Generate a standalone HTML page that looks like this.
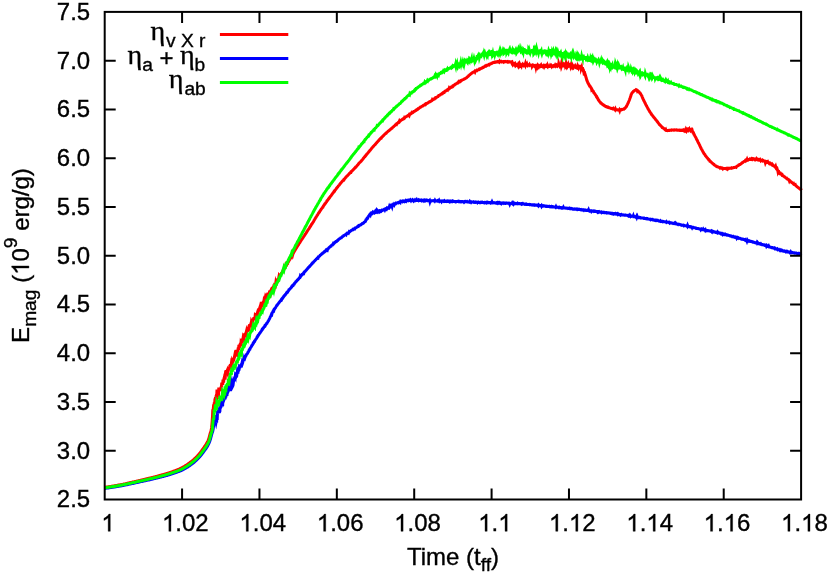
<!DOCTYPE html>
<html><head><meta charset="utf-8"><title>plot</title>
<style>
html,body{margin:0;padding:0;background:#fff;}
svg{display:block;will-change:transform;}
text{font-family:"Liberation Sans",sans-serif;font-size:24px;fill:#000;stroke:#000;stroke-width:0.35px;}
.sub{font-size:19.2px;}
.sub2{font-size:15.4px;}
.sym text{font-family:"Liberation Serif",serif;font-size:27px;}
</style></head><body>
<svg width="830" height="573" viewBox="0 0 830 573">
<rect width="830" height="573" fill="#fff"/>
<g fill="none" stroke-linejoin="miter" stroke-miterlimit="5" stroke-linecap="butt" stroke-width="3">
<path stroke="#ff0000" d="M104.5,487.4 L104.8,487.4 L105.1,487.4 L105.4,487.3 L105.7,487.3 L106.0,487.2 L106.3,487.2 L106.6,487.1 L106.9,487.1 L107.2,487.1 L107.5,487.0 L107.8,487.0 L108.1,486.9 L108.4,486.9 L108.7,486.8 L109.0,486.8 L109.3,486.7 L109.6,486.7 L109.9,486.6 L110.2,486.6 L110.5,486.5 L110.8,486.5 L111.1,486.4 L111.4,486.4 L111.7,486.3 L112.0,486.3 L112.3,486.2 L112.6,486.2 L112.9,486.1 L113.2,486.1 L113.5,486.0 L113.8,486.0 L114.1,485.9 L114.4,485.9 L114.7,485.8 L115.0,485.8 L115.3,485.7 L115.6,485.7 L115.9,485.6 L116.2,485.6 L116.5,485.5 L116.8,485.5 L117.1,485.4 L117.4,485.3 L117.7,485.3 L118.0,485.2 L118.3,485.2 L118.6,485.1 L118.9,485.1 L119.2,485.0 L119.5,485.0 L119.8,484.9 L120.1,484.8 L120.4,484.8 L120.7,484.7 L121.0,484.7 L121.3,484.6 L121.6,484.5 L121.9,484.5 L122.2,484.4 L122.5,484.4 L122.8,484.3 L123.1,484.2 L123.4,484.2 L123.7,484.1 L124.0,484.1 L124.3,484.0 L124.6,483.9 L124.9,483.9 L125.2,483.8 L125.5,483.7 L125.8,483.7 L126.1,483.6 L126.4,483.5 L126.7,483.5 L127.0,483.4 L127.3,483.3 L127.6,483.3 L127.9,483.2 L128.2,483.1 L128.5,483.1 L128.8,483.0 L129.1,482.9 L129.4,482.8 L129.7,482.8 L130.0,482.7 L130.3,482.6 L130.6,482.6 L130.9,482.5 L131.2,482.4 L131.5,482.4 L131.8,482.3 L132.1,482.2 L132.4,482.1 L132.7,482.1 L133.0,482.0 L133.3,481.9 L133.6,481.9 L133.9,481.8 L134.2,481.7 L134.5,481.7 L134.8,481.6 L135.1,481.5 L135.4,481.4 L135.7,481.4 L136.0,481.3 L136.3,481.2 L136.6,481.2 L136.9,481.1 L137.2,481.0 L137.5,480.9 L137.8,480.9 L138.1,480.8 L138.4,480.7 L138.7,480.7 L139.0,480.6 L139.3,480.5 L139.6,480.4 L139.9,480.4 L140.2,480.3 L140.5,480.2 L140.8,480.2 L141.1,480.1 L141.4,480.0 L141.7,480.0 L142.0,479.9 L142.3,479.8 L142.6,479.7 L142.9,479.7 L143.2,479.6 L143.5,479.5 L143.8,479.5 L144.1,479.4 L144.4,479.3 L144.7,479.2 L145.0,479.2 L145.3,479.1 L145.6,479.0 L145.9,479.0 L146.2,478.9 L146.5,478.8 L146.8,478.8 L147.1,478.7 L147.4,478.6 L147.7,478.5 L148.0,478.5 L148.3,478.4 L148.6,478.3 L148.9,478.3 L149.2,478.2 L149.5,478.1 L149.8,478.0 L150.1,478.0 L150.4,477.9 L150.7,477.8 L151.0,477.7 L151.3,477.7 L151.6,477.6 L151.9,477.5 L152.2,477.5 L152.5,477.4 L152.8,477.3 L153.1,477.2 L153.4,477.2 L153.7,477.1 L154.0,477.0 L154.3,476.9 L154.6,476.9 L154.9,476.8 L155.2,476.7 L155.5,476.6 L155.8,476.5 L156.1,476.5 L156.4,476.4 L156.7,476.3 L157.0,476.2 L157.3,476.2 L157.6,476.1 L157.9,476.0 L158.2,475.9 L158.5,475.8 L158.8,475.8 L159.1,475.7 L159.4,475.6 L159.7,475.5 L160.0,475.4 L160.3,475.3 L160.6,475.3 L160.9,475.2 L161.2,475.1 L161.5,475.0 L161.8,474.9 L162.1,474.8 L162.4,474.8 L162.7,474.7 L163.0,474.6 L163.3,474.5 L163.6,474.4 L163.9,474.3 L164.2,474.2 L164.5,474.2 L164.8,474.1 L165.1,474.0 L165.4,473.9 L165.7,473.8 L166.0,473.7 L166.3,473.6 L166.6,473.5 L166.9,473.4 L167.2,473.3 L167.5,473.2 L167.8,473.2 L168.1,473.1 L168.4,473.0 L168.7,472.9 L169.0,472.8 L169.3,472.7 L169.6,472.6 L169.9,472.5 L170.2,472.4 L170.5,472.3 L170.8,472.2 L171.1,472.1 L171.4,472.0 L171.7,471.9 L172.0,471.8 L172.3,471.7 L172.6,471.6 L172.9,471.5 L173.2,471.4 L173.5,471.2 L173.8,471.1 L174.1,471.0 L174.4,470.9 L174.7,470.8 L175.0,470.7 L175.3,470.6 L175.6,470.5 L175.9,470.4 L176.2,470.3 L176.5,470.1 L176.8,470.0 L177.1,469.9 L177.4,469.8 L177.7,469.7 L178.0,469.5 L178.3,469.4 L178.6,469.3 L178.9,469.2 L179.2,469.0 L179.5,468.9 L179.8,468.8 L180.1,468.6 L180.4,468.5 L180.7,468.3 L181.0,468.2 L181.3,468.0 L181.6,467.9 L181.9,467.7 L182.2,467.6 L182.5,467.4 L182.8,467.2 L183.1,467.1 L183.4,466.9 L183.7,466.7 L184.0,466.5 L184.3,466.4 L184.6,466.2 L184.9,466.0 L185.2,465.8 L185.5,465.6 L185.8,465.4 L186.1,465.2 L186.4,465.0 L186.7,464.9 L187.0,464.7 L187.3,464.5 L187.6,464.3 L187.9,464.1 L188.2,463.8 L188.5,463.6 L188.8,463.4 L189.1,463.2 L189.4,463.0 L189.7,462.8 L190.0,462.5 L190.3,462.3 L190.6,462.1 L190.9,461.9 L191.2,461.6 L191.5,461.4 L191.8,461.1 L192.1,460.9 L192.4,460.6 L192.7,460.4 L193.0,460.1 L193.3,459.9 L193.6,459.6 L193.9,459.4 L194.2,459.1 L194.5,458.8 L194.8,458.5 L195.1,458.3 L195.4,458.0 L195.7,457.7 L196.0,457.4 L196.3,457.1 L196.6,456.8 L196.9,456.5 L197.2,456.2 L197.5,455.9 L197.8,455.6 L198.1,455.2 L198.4,454.9 L198.7,454.6 L199.0,454.2 L199.3,453.9 L199.6,453.5 L199.9,453.1 L200.2,452.7 L200.5,452.3 L200.8,451.9 L201.1,451.5 L201.4,451.1 L201.7,450.6 L202.0,450.2 L202.3,449.8 L202.6,449.4 L202.9,449.0 L203.2,448.5 L203.5,448.1 L203.8,447.7 L204.1,447.3 L204.4,446.9 L204.7,446.4 L205.0,446.0 L205.3,445.5 L205.6,445.0 L205.9,444.6 L206.2,444.1 L206.5,443.6 L206.8,443.1 L207.1,442.6 L207.4,442.1 L207.7,441.5 L208.0,440.9 L208.3,440.2 L208.6,439.4 L208.9,438.3 L209.2,437.2 L209.5,436.0 L209.8,434.8 L210.1,433.7 L210.4,432.8 L210.7,431.9 L211.0,431.0 L211.3,429.6 L211.6,427.5 L211.9,424.4 L212.2,420.7 L212.5,416.7 L212.8,409.4 L213.1,410.7 L213.4,407.4 L213.7,404.4 L214.0,406.1 L214.3,402.3 L214.6,404.6 L214.9,399.6 L215.2,399.5 L215.5,397.2 L215.8,399.6 L216.1,396.1 L216.4,395.2 L216.7,396.0 L217.0,389.6 L217.3,398.9 L217.6,396.0 L217.9,397.4 L218.2,393.1 L218.5,396.2 L218.8,387.5 L219.1,389.7 L219.4,389.8 L219.7,391.0 L220.0,388.5 L220.3,389.9 L220.6,391.0 L220.9,387.9 L221.2,387.1 L221.5,386.2 L221.8,382.7 L222.1,384.5 L222.4,383.0 L222.7,385.0 L223.0,379.5 L223.3,380.6 L223.6,382.6 L223.9,379.1 L224.2,377.9 L224.5,379.2 L224.8,374.5 L225.1,379.6 L225.4,375.3 L225.7,370.6 L226.0,372.9 L226.3,370.1 L226.6,373.6 L226.9,371.2 L227.2,370.5 L227.5,372.0 L227.8,373.0 L228.1,371.6 L228.4,368.4 L228.7,368.1 L229.0,370.2 L229.3,368.7 L229.6,368.1 L229.9,364.9 L230.2,369.1 L230.5,364.1 L230.8,367.6 L231.1,365.2 L231.4,363.1 L231.7,363.8 L232.0,363.8 L232.3,361.3 L232.6,362.0 L232.9,361.9 L233.2,358.4 L233.5,359.6 L233.8,359.7 L234.1,358.6 L234.4,357.0 L234.7,355.5 L235.0,356.4 L235.3,355.9 L235.6,351.7 L235.9,356.0 L236.2,349.7 L236.5,352.2 L236.8,354.4 L237.1,354.7 L237.4,352.1 L237.7,351.7 L238.0,349.4 L238.3,347.4 L238.6,350.1 L238.9,344.8 L239.2,345.9 L239.5,347.9 L239.8,344.4 L240.1,345.5 L240.4,342.8 L240.7,346.2 L241.0,342.4 L241.3,342.9 L241.6,339.6 L241.9,341.5 L242.2,340.8 L242.5,338.8 L242.8,342.6 L243.1,337.9 L243.4,336.0 L243.7,336.4 L244.0,335.9 L244.3,334.4 L244.6,335.9 L244.9,334.6 L245.2,333.5 L245.5,335.7 L245.8,333.0 L246.1,332.6 L246.4,331.4 L246.7,332.8 L247.0,331.4 L247.3,329.7 L247.6,327.2 L247.9,330.3 L248.2,329.2 L248.5,329.8 L248.8,330.1 L249.1,329.9 L249.4,326.1 L249.7,326.2 L250.0,325.4 L250.3,324.9 L250.6,324.6 L250.9,323.6 L251.2,324.2 L251.5,321.7 L251.8,322.3 L252.1,322.3 L252.4,322.1 L252.7,320.6 L253.0,320.3 L253.3,319.6 L253.6,318.5 L253.9,318.4 L254.2,318.6 L254.5,318.7 L254.8,318.8 L255.1,316.2 L255.4,316.7 L255.7,316.1 L256.0,315.7 L256.3,314.2 L256.6,314.1 L256.9,314.0 L257.2,313.1 L257.5,312.2 L257.8,313.0 L258.1,311.7 L258.4,310.9 L258.7,310.6 L259.0,309.9 L259.3,309.0 L259.6,310.9 L259.9,308.4 L260.2,307.1 L260.5,308.2 L260.8,306.7 L261.1,305.4 L261.4,305.9 L261.7,304.9 L262.0,305.1 L262.3,303.6 L262.6,303.6 L262.9,302.2 L263.2,301.9 L263.5,303.4 L263.8,301.5 L264.1,302.4 L264.4,300.3 L264.7,300.4 L265.0,299.0 L265.3,300.3 L265.6,298.9 L265.9,297.4 L266.2,298.0 L266.5,297.1 L266.8,298.2 L267.1,297.1 L267.4,296.7 L267.7,295.9 L268.0,295.3 L268.3,294.3 L268.6,294.4 L268.9,293.5 L269.2,292.7 L269.5,293.0 L269.8,292.1 L270.1,292.0 L270.4,291.4 L270.7,290.8 L271.0,291.9 L271.3,290.6 L271.6,290.6 L271.9,291.0 L272.2,289.2 L272.5,288.5 L272.8,287.6 L273.1,287.3 L273.4,287.9 L273.7,286.5 L274.0,286.7 L274.3,287.5 L274.6,285.7 L274.9,286.0 L275.2,283.1 L275.5,284.7 L275.8,282.6 L276.1,283.6 L276.4,282.4 L276.7,281.2 L277.0,281.5 L277.3,281.6 L277.6,280.1 L277.9,279.3 L278.2,279.2 L278.5,278.5 L278.8,277.4 L279.1,275.9 L279.4,276.4 L279.7,276.5 L280.0,275.9 L280.3,275.3 L280.6,274.6 L280.9,274.1 L281.2,273.8 L281.5,273.4 L281.8,272.9 L282.1,272.7 L282.4,272.2 L282.7,271.3 L283.0,271.4 L283.3,270.7 L283.6,270.0 L283.9,269.5 L284.2,269.1 L284.5,268.4 L284.8,267.9 L285.1,267.5 L285.4,267.0 L285.7,265.5 L286.0,266.1 L286.3,265.7 L286.6,265.1 L286.9,263.8 L287.2,263.9 L287.5,263.8 L287.8,262.8 L288.1,262.2 L288.4,261.9 L288.7,261.4 L289.0,260.7 L289.3,260.2 L289.6,259.7 L289.9,259.3 L290.2,258.8 L290.5,258.3 L290.8,257.6 L291.1,257.0 L291.4,256.7 L291.7,256.5 L292.0,255.8 L292.3,254.3 L292.6,255.1 L292.9,254.0 L293.2,252.8 L293.5,252.9 L293.8,252.3 L294.1,251.7 L294.4,251.4 L294.7,250.7 L295.0,250.3 L295.3,249.8 L295.6,249.3 L295.9,248.8 L296.2,248.3 L296.5,247.8 L296.8,247.4 L297.1,246.9 L297.4,246.2 L297.7,245.9 L298.0,245.3 L298.3,245.0 L298.6,244.5 L298.9,244.0 L299.2,243.5 L299.5,242.8 L299.8,242.7 L300.1,242.3 L300.4,241.7 L300.7,241.1 L301.0,240.5 L301.3,240.3 L301.6,239.7 L301.9,239.4 L302.2,238.8 L302.5,238.5 L302.8,238.0 L303.1,237.5 L303.4,237.1 L303.7,236.6 L304.0,236.1 L304.3,235.8 L304.6,235.3 L304.9,234.8 L305.2,234.4 L305.5,233.9 L305.8,233.5 L306.1,233.2 L306.4,232.6 L306.7,232.0 L307.0,231.5 L307.3,231.1 L307.6,230.5 L307.9,230.1 L308.2,229.7 L308.5,229.3 L308.8,228.9 L309.1,228.5 L309.4,228.1 L309.7,227.4 L310.0,226.8 L310.3,226.6 L310.6,226.2 L310.9,225.6 L311.2,225.0 L311.5,224.4 L311.8,224.2 L312.1,223.6 L312.4,223.3 L312.7,222.8 L313.0,222.3 L313.3,221.9 L313.6,221.3 L313.9,220.6 L314.2,220.3 L314.5,219.7 L314.8,219.3 L315.1,218.6 L315.4,218.3 L315.7,217.7 L316.0,217.4 L316.3,216.8 L316.6,216.2 L316.9,215.8 L317.2,215.3 L317.5,215.0 L317.8,214.5 L318.1,213.9 L318.4,213.5 L318.7,212.9 L319.0,212.7 L319.3,212.1 L319.6,211.8 L319.9,211.1 L320.2,210.8 L320.5,210.3 L320.8,209.9 L321.1,209.4 L321.4,209.0 L321.7,208.5 L322.0,208.1 L322.3,207.6 L322.6,207.3 L322.9,207.2 L323.2,206.4 L323.5,205.9 L323.8,205.5 L324.1,205.1 L324.4,204.9 L324.7,204.0 L325.0,203.9 L325.3,203.4 L325.6,203.1 L325.9,202.5 L326.2,202.2 L326.5,201.8 L326.8,201.3 L327.1,200.6 L327.4,200.5 L327.7,200.2 L328.0,199.7 L328.3,199.2 L328.6,198.9 L328.9,198.5 L329.2,198.1 L329.5,197.8 L329.8,197.1 L330.1,196.8 L330.4,196.5 L330.7,196.0 L331.0,195.7 L331.3,195.3 L331.6,194.8 L331.9,194.5 L332.2,194.0 L332.5,193.6 L332.8,193.1 L333.1,192.7 L333.4,192.4 L333.7,192.2 L334.0,191.5 L334.3,191.6 L334.6,191.2 L334.9,190.5 L335.2,190.0 L335.5,189.7 L335.8,189.3 L336.1,188.9 L336.4,188.5 L336.7,188.1 L337.0,187.8 L337.3,187.4 L337.6,187.0 L337.9,186.6 L338.2,186.1 L338.5,185.8 L338.8,185.5 L339.1,185.2 L339.4,184.8 L339.7,184.3 L340.0,183.9 L340.3,183.6 L340.6,183.3 L340.9,182.9 L341.2,182.5 L341.5,182.3 L341.8,181.8 L342.1,181.4 L342.4,181.2 L342.7,180.8 L343.0,180.5 L343.3,180.2 L343.6,179.8 L343.9,179.9 L344.2,179.4 L344.5,178.9 L344.8,178.5 L345.1,178.2 L345.4,177.8 L345.7,177.5 L346.0,177.3 L346.3,176.7 L346.6,176.4 L346.9,176.2 L347.2,175.9 L347.5,175.7 L347.8,175.3 L348.1,175.0 L348.4,174.8 L348.7,174.3 L349.0,174.0 L349.3,173.6 L349.6,173.3 L349.9,173.0 L350.2,172.9 L350.5,172.6 L350.8,172.1 L351.1,172.2 L351.4,171.6 L351.7,171.3 L352.0,171.0 L352.3,170.7 L352.6,170.3 L352.9,170.2 L353.2,169.9 L353.5,169.4 L353.8,169.2 L354.1,168.9 L354.4,168.6 L354.7,168.2 L355.0,167.8 L355.3,167.7 L355.6,167.1 L355.9,167.0 L356.2,166.7 L356.5,166.2 L356.8,166.0 L357.1,165.6 L357.4,165.2 L357.7,164.9 L358.0,164.7 L358.3,164.2 L358.6,163.9 L358.9,163.3 L359.2,163.1 L359.5,162.8 L359.8,162.5 L360.1,162.2 L360.4,161.9 L360.7,161.7 L361.0,161.2 L361.3,161.1 L361.6,160.5 L361.9,160.2 L362.2,159.7 L362.5,159.5 L362.8,159.2 L363.1,158.8 L363.4,158.3 L363.7,158.0 L364.0,157.5 L364.3,157.3 L364.6,156.8 L364.9,156.7 L365.2,156.2 L365.5,155.9 L365.8,155.5 L366.1,155.1 L366.4,154.8 L366.7,154.4 L367.0,153.9 L367.3,153.7 L367.6,153.2 L367.9,153.0 L368.2,152.6 L368.5,152.2 L368.8,151.9 L369.1,151.5 L369.4,151.1 L369.7,150.7 L370.0,150.4 L370.3,150.0 L370.6,149.7 L370.9,149.3 L371.2,148.9 L371.5,148.5 L371.8,148.2 L372.1,147.7 L372.4,147.6 L372.7,147.2 L373.0,146.9 L373.3,146.4 L373.6,146.2 L373.9,145.7 L374.2,145.5 L374.5,145.1 L374.8,144.9 L375.1,144.5 L375.4,144.3 L375.7,143.9 L376.0,143.4 L376.3,143.1 L376.6,142.9 L376.9,142.4 L377.2,142.0 L377.5,141.8 L377.8,141.4 L378.1,141.1 L378.4,140.9 L378.7,140.5 L379.0,140.1 L379.3,139.8 L379.6,139.4 L379.9,139.2 L380.2,138.8 L380.5,138.8 L380.8,138.6 L381.1,137.9 L381.4,137.9 L381.7,137.3 L382.0,137.0 L382.3,136.7 L382.6,136.5 L382.9,136.2 L383.2,135.9 L383.5,135.6 L383.8,135.3 L384.1,134.9 L384.4,134.6 L384.7,134.3 L385.0,134.1 L385.3,133.9 L385.6,133.6 L385.9,133.2 L386.2,133.2 L386.5,132.8 L386.8,132.4 L387.1,132.2 L387.4,131.9 L387.7,131.7 L388.0,131.4 L388.3,131.1 L388.6,131.0 L388.9,130.7 L389.2,130.5 L389.5,130.2 L389.8,129.9 L390.1,129.8 L390.4,129.4 L390.7,129.1 L391.0,129.0 L391.3,128.7 L391.6,128.3 L391.9,128.1 L392.2,128.1 L392.5,127.6 L392.8,127.3 L393.1,127.1 L393.4,126.9 L393.7,126.6 L394.0,126.3 L394.3,126.0 L394.6,125.7 L394.9,125.6 L395.2,125.0 L395.5,124.9 L395.8,124.6 L396.1,124.5 L396.4,124.1 L396.7,124.3 L397.0,123.8 L397.3,123.4 L397.6,123.2 L397.9,122.8 L398.2,122.6 L398.5,122.3 L398.8,122.3 L399.1,121.8 L399.4,121.1 L399.7,121.6 L400.0,121.2 L400.3,120.9 L400.6,120.7 L400.9,120.3 L401.2,120.2 L401.5,120.1 L401.8,119.7 L402.1,119.5 L402.4,119.5 L402.7,119.1 L403.0,119.0 L403.3,118.9 L403.6,118.4 L403.9,118.2 L404.2,118.3 L404.5,117.6 L404.8,117.8 L405.1,117.5 L405.4,117.2 L405.7,116.9 L406.0,116.8 L406.3,116.5 L406.6,116.4 L406.9,116.2 L407.2,116.0 L407.5,116.0 L407.8,115.6 L408.1,115.4 L408.4,115.3 L408.7,115.2 L409.0,114.8 L409.3,115.3 L409.6,114.4 L409.9,114.3 L410.2,114.3 L410.5,114.0 L410.8,113.8 L411.1,113.4 L411.4,113.3 L411.7,112.7 L412.0,113.0 L412.3,112.8 L412.6,112.7 L412.9,112.3 L413.2,112.3 L413.5,112.0 L413.8,111.6 L414.1,111.6 L414.4,111.5 L414.7,111.3 L415.0,110.9 L415.3,110.8 L415.6,110.4 L415.9,110.4 L416.2,110.1 L416.5,110.1 L416.8,109.6 L417.1,109.4 L417.4,109.2 L417.7,109.3 L418.0,108.9 L418.3,108.5 L418.6,108.4 L418.9,108.4 L419.2,108.2 L419.5,107.9 L419.8,107.6 L420.1,107.5 L420.4,107.1 L420.7,107.0 L421.0,107.0 L421.3,106.8 L421.6,106.5 L421.9,106.2 L422.2,106.1 L422.5,106.0 L422.8,106.0 L423.1,105.7 L423.4,105.3 L423.7,105.2 L424.0,105.0 L424.3,104.9 L424.6,104.7 L424.9,104.8 L425.2,104.3 L425.5,104.0 L425.8,104.2 L426.1,103.8 L426.4,103.6 L426.7,103.5 L427.0,103.4 L427.3,103.2 L427.6,103.1 L427.9,102.8 L428.2,102.7 L428.5,102.4 L428.8,102.2 L429.1,102.1 L429.4,101.9 L429.7,101.6 L430.0,101.5 L430.3,101.6 L430.6,101.4 L430.9,101.2 L431.2,100.9 L431.5,100.8 L431.8,100.7 L432.1,100.4 L432.4,99.6 L432.7,99.9 L433.0,99.7 L433.3,99.6 L433.6,99.3 L433.9,99.1 L434.2,98.9 L434.5,98.6 L434.8,98.7 L435.1,98.4 L435.4,97.9 L435.7,98.0 L436.0,97.6 L436.3,97.5 L436.6,97.3 L436.9,97.2 L437.2,96.9 L437.5,96.7 L437.8,96.5 L438.1,96.5 L438.4,96.0 L438.7,95.5 L439.0,95.5 L439.3,95.4 L439.6,95.2 L439.9,95.0 L440.2,94.9 L440.5,94.5 L440.8,94.4 L441.1,94.1 L441.4,93.9 L441.7,93.7 L442.0,93.5 L442.3,93.6 L442.6,93.1 L442.9,92.9 L443.2,92.6 L443.5,92.7 L443.8,92.4 L444.1,92.1 L444.4,92.2 L444.7,91.6 L445.0,91.5 L445.3,91.1 L445.6,91.0 L445.9,90.9 L446.2,90.6 L446.5,90.4 L446.8,90.1 L447.1,90.0 L447.4,89.8 L447.7,90.0 L448.0,89.4 L448.3,89.3 L448.6,89.0 L448.9,88.8 L449.2,88.0 L449.5,88.4 L449.8,88.1 L450.1,88.1 L450.4,87.8 L450.7,87.5 L451.0,87.4 L451.3,86.9 L451.6,86.9 L451.9,86.7 L452.2,86.8 L452.5,86.3 L452.8,86.5 L453.1,86.2 L453.4,85.7 L453.7,85.4 L454.0,85.2 L454.3,85.1 L454.6,85.0 L454.9,84.6 L455.2,84.3 L455.5,84.3 L455.8,84.1 L456.1,83.8 L456.4,83.6 L456.7,83.6 L457.0,83.3 L457.3,83.0 L457.6,83.0 L457.9,82.7 L458.2,82.4 L458.5,81.9 L458.8,82.3 L459.1,82.0 L459.4,81.9 L459.7,81.7 L460.0,81.4 L460.3,81.5 L460.6,80.9 L460.9,81.0 L461.2,80.8 L461.5,80.6 L461.8,80.4 L462.1,80.1 L462.4,80.0 L462.7,79.8 L463.0,79.7 L463.3,79.6 L463.6,79.4 L463.9,79.3 L464.2,79.0 L464.5,79.0 L464.8,78.8 L465.1,78.6 L465.4,78.5 L465.7,78.2 L466.0,78.0 L466.3,77.9 L466.6,77.8 L466.9,77.4 L467.2,77.0 L467.5,76.7 L467.8,76.6 L468.1,76.5 L468.4,76.2 L468.7,75.6 L469.0,75.4 L469.3,75.2 L469.6,74.9 L469.9,74.8 L470.2,74.4 L470.5,74.2 L470.8,73.9 L471.1,73.6 L471.4,73.4 L471.7,73.3 L472.0,73.0 L472.3,73.0 L472.6,72.8 L472.9,72.3 L473.2,72.2 L473.5,72.0 L473.8,72.0 L474.1,71.8 L474.4,71.8 L474.7,71.4 L475.0,71.9 L475.3,71.2 L475.6,70.9 L475.9,70.8 L476.2,70.8 L476.5,70.6 L476.8,70.3 L477.1,70.5 L477.4,70.2 L477.7,70.1 L478.0,70.0 L478.3,69.8 L478.6,69.7 L478.9,69.4 L479.2,69.1 L479.5,69.4 L479.8,69.2 L480.1,69.0 L480.4,68.7 L480.7,68.6 L481.0,68.4 L481.3,68.2 L481.6,68.2 L481.9,68.0 L482.2,68.0 L482.5,67.6 L482.8,67.5 L483.1,67.3 L483.4,67.1 L483.7,67.3 L484.0,67.1 L484.3,66.8 L484.6,66.7 L484.9,66.5 L485.2,66.3 L485.5,65.8 L485.8,65.8 L486.1,65.9 L486.4,65.5 L486.7,65.7 L487.0,65.5 L487.3,65.3 L487.6,65.2 L487.9,65.1 L488.2,64.9 L488.5,65.0 L488.8,64.6 L489.1,64.4 L489.4,64.6 L489.7,64.2 L490.0,64.1 L490.3,64.1 L490.6,64.0 L490.9,63.7 L491.2,63.5 L491.5,63.2 L491.8,63.3 L492.1,63.3 L492.4,62.9 L492.7,62.8 L493.0,62.6 L493.3,62.5 L493.6,62.4 L493.9,62.4 L494.2,62.4 L494.5,62.1 L494.8,62.2 L495.1,62.3 L495.4,62.2 L495.7,62.0 L496.0,62.1 L496.3,61.9 L496.6,61.8 L496.9,61.8 L497.2,61.7 L497.5,61.8 L497.8,61.9 L498.1,61.6 L498.4,61.6 L498.7,61.9 L499.0,61.7 L499.3,62.0 L499.6,61.4 L499.9,61.9 L500.2,61.8 L500.5,61.8 L500.8,61.5 L501.1,61.6 L501.4,61.8 L501.7,61.5 L502.0,61.7 L502.3,61.7 L502.6,61.8 L502.9,61.7 L503.2,61.6 L503.5,61.4 L503.8,61.4 L504.1,62.1 L504.4,61.9 L504.7,61.6 L505.0,61.5 L505.3,61.7 L505.6,61.6 L505.9,61.6 L506.2,61.7 L506.5,61.7 L506.8,61.7 L507.1,61.9 L507.4,61.6 L507.7,61.8 L508.0,62.0 L508.3,61.7 L508.6,61.9 L508.9,62.0 L509.2,62.0 L509.5,61.9 L509.8,61.7 L510.1,61.8 L510.4,62.1 L510.7,62.1 L511.0,62.2 L511.3,62.3 L511.6,62.1 L511.9,63.0 L512.2,62.7 L512.5,63.7 L512.8,64.4 L513.1,63.9 L513.4,64.0 L513.7,63.9 L514.0,61.9 L514.3,64.3 L514.6,64.9 L514.9,64.8 L515.2,64.3 L515.5,65.2 L515.8,64.8 L516.1,65.3 L516.4,65.0 L516.7,64.7 L517.0,64.9 L517.3,65.2 L517.6,64.8 L517.9,65.4 L518.2,64.7 L518.5,65.5 L518.8,64.6 L519.1,64.7 L519.4,65.2 L519.7,64.2 L520.0,64.9 L520.3,65.3 L520.6,64.7 L520.9,64.7 L521.2,65.0 L521.5,65.7 L521.8,64.7 L522.1,64.5 L522.4,64.2 L522.7,65.0 L523.0,65.2 L523.3,64.9 L523.6,65.0 L523.9,64.8 L524.2,65.4 L524.5,65.1 L524.8,64.6 L525.1,64.8 L525.4,63.8 L525.7,65.0 L526.0,64.3 L526.3,64.9 L526.6,64.8 L526.9,64.2 L527.2,65.2 L527.5,65.5 L527.8,64.9 L528.1,64.8 L528.4,65.0 L528.7,65.0 L529.0,65.1 L529.3,65.3 L529.6,64.7 L529.9,65.2 L530.2,65.2 L530.5,65.3 L530.8,65.4 L531.1,65.5 L531.4,65.2 L531.7,65.1 L532.0,66.2 L532.3,65.6 L532.6,65.3 L532.9,65.9 L533.2,65.6 L533.5,65.5 L533.8,65.6 L534.1,65.4 L534.4,65.5 L534.7,66.1 L535.0,65.9 L535.3,65.8 L535.6,65.8 L535.9,67.2 L536.2,65.9 L536.5,65.6 L536.8,63.9 L537.1,66.4 L537.4,65.8 L537.7,66.7 L538.0,66.0 L538.3,65.7 L538.6,66.0 L538.9,66.6 L539.2,66.0 L539.5,66.3 L539.8,66.4 L540.1,66.0 L540.4,66.5 L540.7,66.6 L541.0,66.5 L541.3,65.7 L541.6,66.4 L541.9,66.5 L542.2,66.6 L542.5,66.8 L542.8,66.4 L543.1,66.3 L543.4,65.8 L543.7,66.1 L544.0,66.7 L544.3,66.0 L544.6,66.3 L544.9,65.9 L545.2,66.3 L545.5,66.0 L545.8,66.5 L546.1,66.4 L546.4,66.5 L546.7,65.9 L547.0,66.3 L547.3,66.6 L547.6,65.5 L547.9,66.2 L548.2,66.3 L548.5,66.5 L548.8,66.4 L549.1,66.4 L549.4,66.3 L549.7,66.4 L550.0,66.1 L550.3,65.4 L550.6,65.8 L550.9,66.0 L551.2,66.0 L551.5,66.4 L551.8,65.7 L552.1,66.0 L552.4,65.9 L552.7,65.9 L553.0,66.2 L553.3,65.8 L553.6,65.6 L553.9,65.8 L554.2,66.0 L554.5,65.8 L554.8,65.9 L555.1,65.3 L555.4,65.9 L555.7,65.5 L556.0,65.3 L556.3,65.6 L556.6,65.2 L556.9,65.6 L557.2,65.9 L557.5,65.3 L557.8,65.2 L558.1,65.7 L558.4,65.5 L558.7,63.8 L559.0,64.8 L559.3,65.1 L559.6,65.7 L559.9,65.0 L560.2,64.9 L560.5,65.2 L560.8,63.4 L561.1,65.0 L561.4,63.7 L561.7,65.3 L562.0,64.4 L562.3,65.5 L562.6,65.3 L562.9,64.4 L563.2,65.1 L563.5,65.9 L563.8,65.9 L564.1,65.5 L564.4,64.7 L564.7,65.0 L565.0,64.5 L565.3,65.9 L565.6,65.3 L565.9,65.9 L566.2,63.8 L566.5,64.9 L566.8,65.0 L567.1,65.1 L567.4,64.7 L567.7,65.7 L568.0,65.0 L568.3,66.6 L568.6,63.7 L568.9,65.5 L569.2,65.4 L569.5,66.2 L569.8,66.1 L570.1,62.9 L570.4,64.4 L570.7,65.9 L571.0,65.0 L571.3,66.3 L571.6,65.8 L571.9,66.5 L572.2,65.7 L572.5,66.6 L572.8,66.3 L573.1,67.1 L573.4,66.5 L573.7,67.0 L574.0,66.4 L574.3,66.5 L574.6,66.3 L574.9,65.9 L575.2,66.8 L575.5,66.7 L575.8,67.2 L576.1,67.1 L576.4,67.9 L576.7,68.0 L577.0,67.0 L577.3,66.3 L577.6,67.5 L577.9,67.6 L578.2,67.0 L578.5,67.7 L578.8,66.9 L579.1,67.2 L579.4,67.8 L579.7,67.7 L580.0,64.9 L580.3,67.6 L580.6,67.8 L580.9,65.1 L581.2,68.3 L581.5,67.5 L581.8,70.0 L582.1,68.7 L582.4,68.4 L582.7,68.4 L583.0,69.4 L583.3,70.8 L583.6,70.8 L583.9,72.5 L584.2,72.1 L584.5,72.3 L584.8,73.5 L585.1,74.4 L585.4,75.4 L585.7,76.2 L586.0,77.4 L586.3,78.1 L586.6,79.5 L586.9,80.4 L587.2,81.2 L587.5,81.8 L587.8,82.6 L588.1,83.2 L588.4,83.4 L588.7,84.4 L589.0,84.7 L589.3,85.3 L589.6,86.0 L589.9,86.0 L590.2,86.4 L590.5,86.9 L590.8,87.5 L591.1,87.8 L591.4,88.3 L591.7,89.7 L592.0,89.4 L592.3,89.9 L592.6,90.5 L592.9,91.0 L593.2,91.1 L593.5,91.9 L593.8,92.7 L594.1,92.9 L594.4,93.2 L594.7,93.7 L595.0,94.2 L595.3,94.7 L595.6,95.1 L595.9,95.6 L596.2,96.1 L596.5,96.8 L596.8,96.8 L597.1,97.6 L597.4,98.1 L597.7,98.4 L598.0,99.2 L598.3,99.8 L598.6,100.1 L598.9,100.4 L599.2,101.2 L599.5,101.5 L599.8,101.8 L600.1,102.1 L600.4,102.4 L600.7,102.9 L601.0,102.9 L601.3,103.3 L601.6,103.6 L601.9,104.0 L602.2,104.1 L602.5,104.4 L602.8,104.6 L603.1,104.7 L603.4,104.9 L603.7,105.3 L604.0,105.3 L604.3,105.6 L604.6,105.8 L604.9,105.9 L605.2,106.1 L605.5,106.4 L605.8,106.5 L606.1,106.6 L606.4,106.6 L606.7,107.0 L607.0,107.0 L607.3,107.1 L607.6,107.1 L607.9,107.1 L608.2,107.5 L608.5,107.5 L608.8,107.5 L609.1,107.8 L609.4,107.8 L609.7,107.9 L610.0,108.0 L610.3,108.1 L610.6,108.2 L610.9,108.2 L611.2,108.4 L611.5,108.4 L611.8,108.4 L612.1,108.6 L612.4,108.7 L612.7,108.9 L613.0,108.9 L613.3,108.5 L613.6,108.9 L613.9,109.1 L614.2,109.2 L614.5,109.2 L614.8,109.3 L615.1,109.7 L615.4,109.0 L615.7,109.7 L616.0,109.8 L616.3,109.5 L616.6,109.6 L616.9,109.8 L617.2,109.8 L617.5,109.9 L617.8,109.9 L618.1,109.8 L618.4,109.9 L618.7,110.0 L619.0,109.9 L619.3,110.0 L619.6,110.7 L619.9,109.7 L620.2,110.0 L620.5,109.9 L620.8,109.8 L621.1,109.9 L621.4,109.9 L621.7,109.8 L622.0,109.5 L622.3,109.6 L622.6,109.6 L622.9,109.3 L623.2,109.2 L623.5,109.0 L623.8,108.8 L624.1,108.9 L624.4,108.5 L624.7,108.2 L625.0,108.2 L625.3,107.8 L625.6,107.4 L625.9,107.2 L626.2,106.8 L626.5,106.3 L626.8,105.6 L627.1,105.0 L627.4,104.6 L627.7,103.8 L628.0,103.3 L628.3,102.6 L628.6,101.8 L628.9,101.2 L629.2,100.5 L629.5,99.8 L629.8,98.8 L630.1,98.0 L630.4,97.0 L630.7,96.4 L631.0,95.2 L631.3,94.2 L631.6,93.7 L631.9,93.1 L632.2,92.8 L632.5,92.4 L632.8,92.2 L633.1,91.9 L633.4,91.4 L633.7,91.2 L634.0,91.0 L634.3,90.7 L634.6,90.6 L634.9,90.2 L635.2,90.1 L635.5,90.0 L635.8,89.8 L636.1,90.1 L636.4,90.0 L636.7,90.2 L637.0,90.2 L637.3,90.9 L637.6,90.5 L637.9,90.7 L638.2,91.2 L638.5,91.5 L638.8,91.7 L639.1,91.9 L639.4,92.4 L639.7,92.9 L640.0,93.3 L640.3,93.3 L640.6,93.7 L640.9,94.3 L641.2,94.9 L641.5,95.4 L641.8,95.8 L642.1,96.8 L642.4,97.4 L642.7,98.2 L643.0,98.9 L643.3,99.6 L643.6,100.0 L643.9,100.8 L644.2,101.3 L644.5,101.8 L644.8,102.6 L645.1,103.0 L645.4,103.7 L645.7,104.4 L646.0,104.9 L646.3,105.4 L646.6,106.1 L646.9,106.6 L647.2,107.2 L647.5,107.8 L647.8,108.2 L648.1,108.9 L648.4,109.3 L648.7,109.9 L649.0,110.4 L649.3,110.8 L649.6,111.3 L649.9,112.0 L650.2,112.2 L650.5,112.8 L650.8,113.2 L651.1,113.6 L651.4,114.4 L651.7,114.5 L652.0,114.9 L652.3,115.3 L652.6,115.7 L652.9,116.1 L653.2,116.5 L653.5,116.9 L653.8,117.3 L654.1,117.5 L654.4,118.0 L654.7,118.3 L655.0,118.7 L655.3,119.1 L655.6,119.6 L655.9,119.9 L656.2,120.2 L656.5,120.5 L656.8,121.0 L657.1,121.4 L657.4,121.7 L657.7,122.2 L658.0,122.6 L658.3,123.0 L658.6,123.2 L658.9,123.7 L659.2,124.0 L659.5,124.6 L659.8,124.8 L660.1,125.1 L660.4,125.4 L660.7,125.7 L661.0,126.1 L661.3,126.4 L661.6,126.6 L661.9,126.9 L662.2,127.4 L662.5,127.4 L662.8,127.6 L663.1,127.9 L663.4,128.2 L663.7,128.5 L664.0,128.6 L664.3,128.9 L664.6,129.3 L664.9,129.4 L665.2,129.8 L665.5,130.0 L665.8,129.6 L666.1,130.3 L666.4,130.3 L666.7,130.4 L667.0,130.4 L667.3,130.4 L667.6,130.6 L667.9,130.5 L668.2,130.4 L668.5,130.3 L668.8,130.4 L669.1,130.4 L669.4,130.4 L669.7,130.3 L670.0,130.3 L670.3,130.2 L670.6,130.2 L670.9,130.1 L671.2,130.3 L671.5,130.1 L671.8,130.2 L672.1,130.0 L672.4,130.0 L672.7,130.0 L673.0,130.0 L673.3,130.0 L673.6,130.1 L673.9,130.0 L674.2,130.1 L674.5,129.9 L674.8,130.0 L675.1,130.0 L675.4,130.0 L675.7,130.1 L676.0,130.1 L676.3,130.1 L676.6,130.0 L676.9,130.2 L677.2,130.1 L677.5,130.2 L677.8,130.2 L678.1,130.3 L678.4,130.3 L678.7,130.2 L679.0,130.1 L679.3,130.3 L679.6,130.4 L679.9,130.2 L680.2,130.3 L680.5,130.3 L680.8,130.4 L681.1,130.3 L681.4,130.4 L681.7,130.3 L682.0,130.4 L682.3,130.2 L682.6,130.4 L682.9,130.3 L683.2,130.4 L683.5,130.4 L683.8,130.1 L684.1,130.7 L684.4,130.6 L684.7,130.9 L685.0,130.5 L685.3,130.5 L685.6,130.4 L685.9,130.8 L686.2,129.5 L686.5,130.0 L686.8,129.7 L687.1,130.4 L687.4,130.1 L687.7,132.4 L688.0,130.1 L688.3,129.9 L688.6,130.0 L688.9,129.7 L689.2,129.2 L689.5,130.1 L689.8,130.0 L690.1,130.1 L690.4,129.9 L690.7,130.5 L691.0,130.1 L691.3,130.8 L691.6,130.7 L691.9,130.8 L692.2,130.4 L692.5,131.5 L692.8,132.2 L693.1,132.2 L693.4,132.5 L693.7,133.7 L694.0,134.4 L694.3,134.6 L694.6,135.4 L694.9,135.9 L695.2,136.5 L695.5,137.0 L695.8,137.5 L696.1,138.0 L696.4,139.0 L696.7,139.3 L697.0,140.0 L697.3,140.5 L697.6,141.1 L697.9,141.9 L698.2,142.4 L698.5,143.0 L698.8,143.6 L699.1,144.1 L699.4,144.8 L699.7,145.2 L700.0,146.1 L700.3,146.7 L700.6,147.4 L700.9,147.8 L701.2,148.6 L701.5,149.2 L701.8,149.5 L702.1,150.1 L702.4,150.8 L702.7,151.2 L703.0,151.8 L703.3,152.4 L703.6,152.8 L703.9,153.5 L704.2,153.9 L704.5,154.3 L704.8,154.4 L705.1,155.3 L705.4,155.6 L705.7,155.9 L706.0,156.4 L706.3,156.7 L706.6,157.1 L706.9,157.5 L707.2,157.8 L707.5,158.1 L707.8,158.5 L708.1,159.0 L708.4,159.1 L708.7,159.8 L709.0,159.8 L709.3,160.2 L709.6,160.6 L709.9,161.2 L710.2,161.2 L710.5,161.4 L710.8,161.7 L711.1,162.1 L711.4,162.4 L711.7,162.6 L712.0,162.9 L712.3,163.1 L712.6,163.5 L712.9,163.6 L713.2,163.8 L713.5,164.2 L713.8,164.6 L714.1,164.6 L714.4,165.0 L714.7,165.3 L715.0,165.4 L715.3,165.5 L715.6,165.7 L715.9,166.0 L716.2,166.2 L716.5,166.2 L716.8,166.5 L717.1,166.7 L717.4,166.7 L717.7,166.9 L718.0,167.0 L718.3,167.0 L718.6,167.2 L718.9,167.3 L719.2,167.4 L719.5,167.4 L719.8,167.4 L720.1,167.9 L720.4,167.6 L720.7,167.8 L721.0,167.8 L721.3,167.8 L721.6,168.1 L721.9,168.3 L722.2,168.2 L722.5,168.3 L722.8,168.7 L723.1,168.3 L723.4,168.4 L723.7,168.4 L724.0,168.5 L724.3,168.5 L724.6,168.5 L724.9,168.6 L725.2,168.6 L725.5,168.6 L725.8,168.7 L726.1,168.5 L726.4,168.8 L726.7,168.7 L727.0,168.5 L727.3,168.9 L727.6,168.5 L727.9,168.6 L728.2,168.4 L728.5,168.6 L728.8,168.4 L729.1,168.4 L729.4,168.3 L729.7,168.3 L730.0,168.2 L730.3,168.2 L730.6,168.2 L730.9,168.1 L731.2,168.1 L731.5,167.9 L731.8,168.2 L732.1,168.1 L732.4,168.1 L732.7,168.0 L733.0,167.8 L733.3,167.8 L733.6,167.6 L733.9,167.6 L734.2,167.6 L734.5,167.6 L734.8,167.3 L735.1,167.2 L735.4,167.1 L735.7,166.9 L736.0,166.9 L736.3,167.1 L736.6,166.6 L736.9,166.4 L737.2,166.1 L737.5,166.0 L737.8,165.7 L738.1,165.6 L738.4,165.5 L738.7,165.1 L739.0,165.1 L739.3,164.9 L739.6,164.6 L739.9,164.6 L740.2,164.2 L740.5,164.1 L740.8,163.9 L741.1,163.7 L741.4,163.5 L741.7,163.2 L742.0,162.9 L742.3,162.6 L742.6,162.5 L742.9,162.4 L743.2,162.0 L743.5,161.9 L743.8,161.7 L744.1,161.4 L744.4,161.2 L744.7,161.0 L745.0,160.9 L745.3,160.5 L745.6,160.8 L745.9,160.3 L746.2,160.2 L746.5,160.1 L746.8,160.1 L747.1,159.4 L747.4,160.1 L747.7,159.9 L748.0,160.0 L748.3,159.6 L748.6,159.7 L748.9,159.6 L749.2,159.4 L749.5,159.4 L749.8,159.1 L750.1,159.4 L750.4,159.3 L750.7,159.1 L751.0,159.0 L751.3,159.2 L751.6,158.8 L751.9,159.1 L752.2,159.2 L752.5,159.4 L752.8,159.0 L753.1,159.3 L753.4,159.2 L753.7,158.8 L754.0,158.9 L754.3,159.0 L754.6,159.4 L754.9,159.7 L755.2,159.2 L755.5,159.3 L755.8,159.3 L756.1,158.9 L756.4,159.6 L756.7,159.7 L757.0,159.0 L757.3,159.3 L757.6,159.6 L757.9,159.6 L758.2,160.0 L758.5,160.0 L758.8,159.7 L759.1,160.0 L759.4,159.8 L759.7,159.9 L760.0,160.1 L760.3,159.6 L760.6,160.0 L760.9,160.6 L761.2,160.3 L761.5,160.3 L761.8,160.5 L762.1,160.3 L762.4,160.6 L762.7,160.1 L763.0,160.3 L763.3,160.7 L763.6,160.7 L763.9,160.9 L764.2,160.9 L764.5,161.3 L764.8,161.5 L765.1,161.6 L765.4,162.7 L765.7,162.0 L766.0,161.3 L766.3,161.4 L766.6,161.9 L766.9,162.2 L767.2,161.9 L767.5,161.7 L767.8,162.6 L768.1,162.7 L768.4,162.5 L768.7,163.0 L769.0,163.3 L769.3,162.8 L769.6,163.0 L769.9,163.5 L770.2,163.7 L770.5,163.4 L770.8,163.7 L771.1,164.3 L771.4,164.4 L771.7,164.6 L772.0,164.3 L772.3,164.9 L772.6,164.8 L772.9,165.4 L773.2,165.5 L773.5,165.8 L773.8,165.8 L774.1,166.1 L774.4,166.4 L774.7,166.6 L775.0,167.0 L775.3,167.0 L775.6,166.4 L775.9,167.5 L776.2,168.3 L776.5,169.0 L776.8,169.2 L777.1,168.9 L777.4,170.0 L777.7,170.3 L778.0,171.8 L778.3,171.1 L778.6,171.2 L778.9,172.2 L779.2,172.5 L779.5,173.1 L779.8,173.0 L780.1,173.0 L780.4,173.6 L780.7,173.5 L781.0,174.0 L781.3,174.1 L781.6,174.4 L781.9,174.9 L782.2,174.7 L782.5,175.4 L782.8,175.6 L783.1,175.7 L783.4,176.1 L783.7,176.3 L784.0,176.5 L784.3,176.6 L784.6,177.0 L784.9,177.1 L785.2,177.3 L785.5,177.6 L785.8,177.8 L786.1,178.1 L786.4,178.3 L786.7,178.2 L787.0,178.7 L787.3,179.1 L787.6,179.1 L787.9,179.3 L788.2,179.5 L788.5,179.6 L788.8,180.1 L789.1,180.3 L789.4,181.1 L789.7,180.6 L790.0,180.9 L790.3,181.2 L790.6,181.7 L790.9,181.8 L791.2,181.9 L791.5,182.2 L791.8,182.5 L792.1,182.7 L792.4,183.0 L792.7,183.1 L793.0,183.4 L793.3,183.7 L793.6,183.5 L793.9,184.1 L794.2,184.3 L794.5,184.7 L794.8,184.8 L795.1,185.0 L795.4,184.8 L795.7,185.5 L796.0,185.8 L796.3,186.1 L796.6,186.3 L796.9,186.5 L797.2,186.9 L797.5,187.1 L797.8,187.3 L798.1,187.5 L798.4,187.7 L798.7,188.0 L799.0,188.1 L799.3,188.4 L799.6,188.8 L799.9,188.9 L800.2,189.1 L800.5,189.3 L800.8,189.7 L801.1,189.8 L801.2,190.1"/>
<path stroke="#0000ff" d="M105.0,488.3 L105.3,488.3 L105.6,488.2 L105.9,488.2 L106.2,488.1 L106.5,488.1 L106.8,488.1 L107.1,488.0 L107.4,488.0 L107.7,487.9 L108.0,487.9 L108.3,487.9 L108.6,487.8 L108.9,487.8 L109.2,487.7 L109.5,487.7 L109.8,487.7 L110.1,487.6 L110.4,487.6 L110.7,487.5 L111.0,487.5 L111.3,487.4 L111.6,487.4 L111.9,487.3 L112.2,487.3 L112.5,487.3 L112.8,487.2 L113.1,487.2 L113.4,487.1 L113.7,487.1 L114.0,487.0 L114.3,487.0 L114.6,486.9 L114.9,486.9 L115.2,486.8 L115.5,486.8 L115.8,486.7 L116.1,486.7 L116.4,486.6 L116.7,486.6 L117.0,486.5 L117.3,486.5 L117.6,486.4 L117.9,486.4 L118.2,486.3 L118.5,486.3 L118.8,486.2 L119.1,486.2 L119.4,486.1 L119.7,486.1 L120.0,486.0 L120.3,486.0 L120.6,485.9 L120.9,485.9 L121.2,485.8 L121.5,485.8 L121.8,485.7 L122.1,485.7 L122.4,485.6 L122.7,485.5 L123.0,485.5 L123.3,485.4 L123.6,485.4 L123.9,485.3 L124.2,485.3 L124.5,485.2 L124.8,485.1 L125.1,485.1 L125.4,485.0 L125.7,485.0 L126.0,484.9 L126.3,484.8 L126.6,484.8 L126.9,484.7 L127.2,484.7 L127.5,484.6 L127.8,484.5 L128.1,484.5 L128.4,484.4 L128.7,484.3 L129.0,484.3 L129.3,484.2 L129.6,484.1 L129.9,484.1 L130.2,484.0 L130.5,484.0 L130.8,483.9 L131.1,483.8 L131.4,483.8 L131.7,483.7 L132.0,483.6 L132.3,483.6 L132.6,483.5 L132.9,483.4 L133.2,483.4 L133.5,483.3 L133.8,483.2 L134.1,483.2 L134.4,483.1 L134.7,483.0 L135.0,483.0 L135.3,482.9 L135.6,482.8 L135.9,482.8 L136.2,482.7 L136.5,482.6 L136.8,482.6 L137.1,482.5 L137.4,482.4 L137.7,482.4 L138.0,482.3 L138.3,482.2 L138.6,482.2 L138.9,482.1 L139.2,482.0 L139.5,482.0 L139.8,481.9 L140.1,481.8 L140.4,481.8 L140.7,481.7 L141.0,481.6 L141.3,481.6 L141.6,481.5 L141.9,481.4 L142.2,481.4 L142.5,481.3 L142.8,481.2 L143.1,481.2 L143.4,481.1 L143.7,481.0 L144.0,481.0 L144.3,480.9 L144.6,480.8 L144.9,480.8 L145.2,480.7 L145.5,480.7 L145.8,480.6 L146.1,480.5 L146.4,480.5 L146.7,480.4 L147.0,480.3 L147.3,480.3 L147.6,480.2 L147.9,480.1 L148.2,480.1 L148.5,480.0 L148.8,479.9 L149.1,479.9 L149.4,479.8 L149.7,479.7 L150.0,479.7 L150.3,479.6 L150.6,479.5 L150.9,479.5 L151.2,479.4 L151.5,479.3 L151.8,479.2 L152.1,479.2 L152.4,479.1 L152.7,479.0 L153.0,479.0 L153.3,478.9 L153.6,478.8 L153.9,478.8 L154.2,478.7 L154.5,478.6 L154.8,478.6 L155.1,478.5 L155.4,478.4 L155.7,478.3 L156.0,478.3 L156.3,478.2 L156.6,478.1 L156.9,478.0 L157.2,478.0 L157.5,477.9 L157.8,477.8 L158.1,477.8 L158.4,477.7 L158.7,477.6 L159.0,477.5 L159.3,477.5 L159.6,477.4 L159.9,477.3 L160.2,477.2 L160.5,477.1 L160.8,477.1 L161.1,477.0 L161.4,476.9 L161.7,476.8 L162.0,476.8 L162.3,476.7 L162.6,476.6 L162.9,476.5 L163.2,476.4 L163.5,476.4 L163.8,476.3 L164.1,476.2 L164.4,476.1 L164.7,476.0 L165.0,476.0 L165.3,475.9 L165.6,475.8 L165.9,475.7 L166.2,475.6 L166.5,475.5 L166.8,475.4 L167.1,475.4 L167.4,475.3 L167.7,475.2 L168.0,475.1 L168.3,475.0 L168.6,474.9 L168.9,474.8 L169.2,474.7 L169.5,474.7 L169.8,474.6 L170.1,474.5 L170.4,474.4 L170.7,474.3 L171.0,474.2 L171.3,474.1 L171.6,474.0 L171.9,473.9 L172.2,473.8 L172.5,473.7 L172.8,473.6 L173.1,473.5 L173.4,473.4 L173.7,473.3 L174.0,473.2 L174.3,473.1 L174.6,473.0 L174.9,472.9 L175.2,472.8 L175.5,472.7 L175.8,472.6 L176.1,472.5 L176.4,472.4 L176.7,472.3 L177.0,472.2 L177.3,472.1 L177.6,472.0 L177.9,471.8 L178.2,471.7 L178.5,471.6 L178.8,471.5 L179.1,471.4 L179.4,471.3 L179.7,471.1 L180.0,471.0 L180.3,470.9 L180.6,470.8 L180.9,470.6 L181.2,470.5 L181.5,470.4 L181.8,470.2 L182.1,470.1 L182.4,469.9 L182.7,469.8 L183.0,469.6 L183.3,469.5 L183.6,469.3 L183.9,469.2 L184.2,469.0 L184.5,468.8 L184.8,468.7 L185.1,468.5 L185.4,468.3 L185.7,468.2 L186.0,468.0 L186.3,467.8 L186.6,467.6 L186.9,467.4 L187.2,467.2 L187.5,467.1 L187.8,466.9 L188.1,466.7 L188.4,466.5 L188.7,466.3 L189.0,466.1 L189.3,465.9 L189.6,465.7 L189.9,465.5 L190.2,465.3 L190.5,465.0 L190.8,464.8 L191.1,464.6 L191.4,464.4 L191.7,464.1 L192.0,463.9 L192.3,463.7 L192.6,463.4 L192.9,463.2 L193.2,463.0 L193.5,462.7 L193.8,462.5 L194.1,462.2 L194.4,462.0 L194.7,461.7 L195.0,461.4 L195.3,461.2 L195.6,460.9 L195.9,460.6 L196.2,460.4 L196.5,460.1 L196.8,459.8 L197.1,459.5 L197.4,459.2 L197.7,458.9 L198.0,458.6 L198.3,458.3 L198.6,458.0 L198.9,457.7 L199.2,457.3 L199.5,457.0 L199.8,456.7 L200.1,456.3 L200.4,456.0 L200.7,455.6 L201.0,455.3 L201.3,454.9 L201.6,454.5 L201.9,454.1 L202.2,453.7 L202.5,453.3 L202.8,452.9 L203.1,452.5 L203.4,452.1 L203.7,451.7 L204.0,451.2 L204.3,450.8 L204.6,450.4 L204.9,450.0 L205.2,449.6 L205.5,449.2 L205.8,448.8 L206.1,448.4 L206.4,447.9 L206.7,447.5 L207.0,447.0 L207.3,446.5 L207.6,446.0 L207.9,445.4 L208.2,444.8 L208.5,444.2 L208.8,443.6 L209.1,442.9 L209.4,442.2 L209.7,441.4 L210.0,440.6 L210.3,439.6 L210.6,438.6 L210.9,437.4 L211.2,436.3 L211.5,435.1 L211.8,434.1 L212.1,433.1 L212.4,432.2 L212.7,431.3 L213.0,430.0 L213.3,428.0 L213.6,425.5 L213.9,423.4 L214.2,422.4 L214.5,421.7 L214.8,421.1 L215.1,415.1 L215.4,418.6 L215.7,421.3 L216.0,422.5 L216.3,420.9 L216.6,422.7 L216.9,416.3 L217.2,419.9 L217.5,411.8 L217.8,411.5 L218.1,413.4 L218.4,410.8 L218.7,413.1 L219.0,407.5 L219.3,412.8 L219.6,411.9 L219.9,411.2 L220.2,402.8 L220.5,405.6 L220.8,405.9 L221.1,404.5 L221.4,401.2 L221.7,403.3 L222.0,405.7 L222.3,401.1 L222.6,406.2 L222.9,399.8 L223.2,401.6 L223.5,400.6 L223.8,397.4 L224.1,399.3 L224.4,398.5 L224.7,397.4 L225.0,399.1 L225.3,397.7 L225.6,393.0 L225.9,397.4 L226.2,392.9 L226.5,391.5 L226.8,394.7 L227.1,394.6 L227.4,388.4 L227.7,387.3 L228.0,389.0 L228.3,389.3 L228.6,390.2 L228.9,389.5 L229.2,386.4 L229.5,388.9 L229.8,387.4 L230.1,391.0 L230.4,388.4 L230.7,386.1 L231.0,383.0 L231.3,383.6 L231.6,382.5 L231.9,384.5 L232.2,384.2 L232.5,386.5 L232.8,385.9 L233.1,385.0 L233.4,382.3 L233.7,379.8 L234.0,379.5 L234.3,380.7 L234.6,377.6 L234.9,377.5 L235.2,378.0 L235.5,374.9 L235.8,375.3 L236.1,372.7 L236.4,374.2 L236.7,373.4 L237.0,373.9 L237.3,371.8 L237.6,372.8 L237.9,373.7 L238.2,369.5 L238.5,367.7 L238.8,370.2 L239.1,369.7 L239.4,367.1 L239.7,367.5 L240.0,367.3 L240.3,367.1 L240.6,365.9 L240.9,364.7 L241.2,367.1 L241.5,364.2 L241.8,364.0 L242.1,362.6 L242.4,363.5 L242.7,362.6 L243.0,360.7 L243.3,360.6 L243.6,360.1 L243.9,358.9 L244.2,360.1 L244.5,357.8 L244.8,358.2 L245.1,357.3 L245.4,356.8 L245.7,356.2 L246.0,355.7 L246.3,355.2 L246.6,354.3 L246.9,354.0 L247.2,353.7 L247.5,353.4 L247.8,352.6 L248.1,351.9 L248.4,351.7 L248.7,351.1 L249.0,350.3 L249.3,349.9 L249.6,349.3 L249.9,349.2 L250.2,348.3 L250.5,347.7 L250.8,347.5 L251.1,347.1 L251.4,346.3 L251.7,346.1 L252.0,345.2 L252.3,345.1 L252.6,344.5 L252.9,344.0 L253.2,343.1 L253.5,343.1 L253.8,342.5 L254.1,342.0 L254.4,341.3 L254.7,341.3 L255.0,340.5 L255.3,340.1 L255.6,339.6 L255.9,339.1 L256.2,338.8 L256.5,338.3 L256.8,337.9 L257.1,337.1 L257.4,336.9 L257.7,336.1 L258.0,335.9 L258.3,335.1 L258.6,334.9 L258.9,334.4 L259.2,333.9 L259.5,333.4 L259.8,333.1 L260.1,332.8 L260.4,332.2 L260.7,331.8 L261.0,331.4 L261.3,331.1 L261.6,330.6 L261.9,330.1 L262.2,329.3 L262.5,329.3 L262.8,328.6 L263.1,328.4 L263.4,327.8 L263.7,327.6 L264.0,327.1 L264.3,326.7 L264.6,326.4 L264.9,325.7 L265.2,325.8 L265.5,325.2 L265.8,324.8 L266.1,324.2 L266.4,324.0 L266.7,323.3 L267.0,323.2 L267.3,322.5 L267.6,322.2 L267.9,321.6 L268.2,321.2 L268.5,320.8 L268.8,320.1 L269.1,319.4 L269.4,319.0 L269.7,318.2 L270.0,317.8 L270.3,316.9 L270.6,316.3 L270.9,315.9 L271.2,315.1 L271.5,314.3 L271.8,314.5 L272.1,313.2 L272.4,312.7 L272.7,311.9 L273.0,311.5 L273.3,310.8 L273.6,310.2 L273.9,310.5 L274.2,309.6 L274.5,309.1 L274.8,308.7 L275.1,308.1 L275.4,307.9 L275.7,307.4 L276.0,306.7 L276.3,306.3 L276.6,305.7 L276.9,305.2 L277.2,305.2 L277.5,304.8 L277.8,304.2 L278.1,304.0 L278.4,303.5 L278.7,302.9 L279.0,302.8 L279.3,302.4 L279.6,302.0 L279.9,301.5 L280.2,301.0 L280.5,300.9 L280.8,300.6 L281.1,300.6 L281.4,299.4 L281.7,299.0 L282.0,299.1 L282.3,298.6 L282.6,298.3 L282.9,297.6 L283.2,297.2 L283.5,297.1 L283.8,296.3 L284.1,296.1 L284.4,295.6 L284.7,295.5 L285.0,295.0 L285.3,294.9 L285.6,294.2 L285.9,294.1 L286.2,293.6 L286.5,293.1 L286.8,292.5 L287.1,292.5 L287.4,291.9 L287.7,291.9 L288.0,291.3 L288.3,291.0 L288.6,290.6 L288.9,289.8 L289.2,289.7 L289.5,289.4 L289.8,289.1 L290.1,288.7 L290.4,288.5 L290.7,288.1 L291.0,287.7 L291.3,287.4 L291.6,286.7 L291.9,286.7 L292.2,286.1 L292.5,285.6 L292.8,285.6 L293.1,285.6 L293.4,284.9 L293.7,284.5 L294.0,284.0 L294.3,284.0 L294.6,283.4 L294.9,282.9 L295.2,282.5 L295.5,282.3 L295.8,281.7 L296.1,281.7 L296.4,281.4 L296.7,280.9 L297.0,280.4 L297.3,280.1 L297.6,280.1 L297.9,279.8 L298.2,279.3 L298.5,279.1 L298.8,278.7 L299.1,278.1 L299.4,277.7 L299.7,277.6 L300.0,277.3 L300.3,276.1 L300.6,276.5 L300.9,276.0 L301.2,275.5 L301.5,275.4 L301.8,275.1 L302.1,274.5 L302.4,274.5 L302.7,274.2 L303.0,273.7 L303.3,273.3 L303.6,272.9 L303.9,273.1 L304.2,272.3 L304.5,272.0 L304.8,271.6 L305.1,271.5 L305.4,271.1 L305.7,270.7 L306.0,270.5 L306.3,270.1 L306.6,269.8 L306.9,269.4 L307.2,269.0 L307.5,268.8 L307.8,268.1 L308.1,268.0 L308.4,267.5 L308.7,267.4 L309.0,267.1 L309.3,266.7 L309.6,266.3 L309.9,266.3 L310.2,265.9 L310.5,265.5 L310.8,265.0 L311.1,264.8 L311.4,264.3 L311.7,264.1 L312.0,263.5 L312.3,263.4 L312.6,262.8 L312.9,262.7 L313.2,262.4 L313.5,262.3 L313.8,261.7 L314.1,261.4 L314.4,261.2 L314.7,260.9 L315.0,260.6 L315.3,260.2 L315.6,260.0 L315.9,259.5 L316.2,259.3 L316.5,258.9 L316.8,258.8 L317.1,258.3 L317.4,258.3 L317.7,258.1 L318.0,258.2 L318.3,257.1 L318.6,257.1 L318.9,256.7 L319.2,256.4 L319.5,256.2 L319.8,255.9 L320.1,255.3 L320.4,255.1 L320.7,255.0 L321.0,254.7 L321.3,254.5 L321.6,253.9 L321.9,253.8 L322.2,253.6 L322.5,253.2 L322.8,253.2 L323.1,253.0 L323.4,252.7 L323.7,252.3 L324.0,252.0 L324.3,252.0 L324.6,251.5 L324.9,251.5 L325.2,251.1 L325.5,250.7 L325.8,250.7 L326.1,250.7 L326.4,249.7 L326.7,249.7 L327.0,249.4 L327.3,249.2 L327.6,249.6 L327.9,248.8 L328.2,248.7 L328.5,248.3 L328.8,247.9 L329.1,247.5 L329.4,247.4 L329.7,247.2 L330.0,246.8 L330.3,246.5 L330.6,246.4 L330.9,246.0 L331.2,246.0 L331.5,245.4 L331.8,245.3 L332.1,245.0 L332.4,245.0 L332.7,244.4 L333.0,244.1 L333.3,243.5 L333.6,243.7 L333.9,243.2 L334.2,243.3 L334.5,243.0 L334.8,242.7 L335.1,242.1 L335.4,242.0 L335.7,241.9 L336.0,241.5 L336.3,241.5 L336.6,241.4 L336.9,240.9 L337.2,240.6 L337.5,240.5 L337.8,240.4 L338.1,239.9 L338.4,239.6 L338.7,239.5 L339.0,239.1 L339.3,238.9 L339.6,238.8 L339.9,238.4 L340.2,238.3 L340.5,238.1 L340.8,237.8 L341.1,237.7 L341.4,237.7 L341.7,237.3 L342.0,236.9 L342.3,236.7 L342.6,236.6 L342.9,236.3 L343.2,236.1 L343.5,235.8 L343.8,235.8 L344.1,235.5 L344.4,235.3 L344.7,235.1 L345.0,235.0 L345.3,234.8 L345.6,234.5 L345.9,234.3 L346.2,234.6 L346.5,233.8 L346.8,233.7 L347.1,233.2 L347.4,233.3 L347.7,232.9 L348.0,232.8 L348.3,232.7 L348.6,233.0 L348.9,232.4 L349.2,231.7 L349.5,231.9 L349.8,231.6 L350.1,231.5 L350.4,231.1 L350.7,231.0 L351.0,230.7 L351.3,230.5 L351.6,230.2 L351.9,230.1 L352.2,229.9 L352.5,229.8 L352.8,229.8 L353.1,229.3 L353.4,229.4 L353.7,229.0 L354.0,228.8 L354.3,228.7 L354.6,228.4 L354.9,228.6 L355.2,228.0 L355.5,227.9 L355.8,227.8 L356.1,227.7 L356.4,227.5 L356.7,227.3 L357.0,227.0 L357.3,226.8 L357.6,226.8 L357.9,226.6 L358.2,226.2 L358.5,225.8 L358.8,226.0 L359.1,225.7 L359.4,225.5 L359.7,225.2 L360.0,225.1 L360.3,224.9 L360.6,224.8 L360.9,224.8 L361.2,224.4 L361.5,224.2 L361.8,224.0 L362.1,223.8 L362.4,223.4 L362.7,223.4 L363.0,223.2 L363.3,223.2 L363.6,222.9 L363.9,222.5 L364.2,222.3 L364.5,222.0 L364.8,221.7 L365.1,221.6 L365.4,221.4 L365.7,220.6 L366.0,219.8 L366.3,219.7 L366.6,219.4 L366.9,218.6 L367.2,217.9 L367.5,217.7 L367.8,217.8 L368.1,217.0 L368.4,216.7 L368.7,216.0 L369.0,215.8 L369.3,215.2 L369.6,215.2 L369.9,214.3 L370.2,214.0 L370.5,214.6 L370.8,213.7 L371.1,213.8 L371.4,213.2 L371.7,213.4 L372.0,212.7 L372.3,212.6 L372.6,213.1 L372.9,212.8 L373.2,212.0 L373.5,212.2 L373.8,212.4 L374.1,212.7 L374.4,212.3 L374.7,212.2 L375.0,211.7 L375.3,212.4 L375.6,212.2 L375.9,212.2 L376.2,211.9 L376.5,211.0 L376.8,211.7 L377.1,211.4 L377.4,211.7 L377.7,211.1 L378.0,211.6 L378.3,211.1 L378.6,211.3 L378.9,211.0 L379.2,210.9 L379.5,211.5 L379.8,211.1 L380.1,211.3 L380.4,210.8 L380.7,210.9 L381.0,211.1 L381.3,210.5 L381.6,210.4 L381.9,210.1 L382.2,210.1 L382.5,210.4 L382.8,210.2 L383.1,210.0 L383.4,210.0 L383.7,210.0 L384.0,209.9 L384.3,209.3 L384.6,209.2 L384.9,209.8 L385.2,209.2 L385.5,209.3 L385.8,208.8 L386.1,208.5 L386.4,208.5 L386.7,208.9 L387.0,208.3 L387.3,208.6 L387.6,208.3 L387.9,207.7 L388.2,207.7 L388.5,207.8 L388.8,208.0 L389.1,207.6 L389.4,206.6 L389.7,207.2 L390.0,206.8 L390.3,206.7 L390.6,206.7 L390.9,206.0 L391.2,206.3 L391.5,205.8 L391.8,205.4 L392.1,206.3 L392.4,205.0 L392.7,204.9 L393.0,204.7 L393.3,204.9 L393.6,204.8 L393.9,204.3 L394.2,204.8 L394.5,204.1 L394.8,204.2 L395.1,204.0 L395.4,203.8 L395.7,203.4 L396.0,203.6 L396.3,203.3 L396.6,203.1 L396.9,202.9 L397.2,202.9 L397.5,202.8 L397.8,202.8 L398.1,202.6 L398.4,202.3 L398.7,202.2 L399.0,202.7 L399.3,202.5 L399.6,202.3 L399.9,202.3 L400.2,201.8 L400.5,202.2 L400.8,201.5 L401.1,201.7 L401.4,201.6 L401.7,201.5 L402.0,201.2 L402.3,201.3 L402.6,201.1 L402.9,201.6 L403.2,201.4 L403.5,201.3 L403.8,201.1 L404.1,201.0 L404.4,200.9 L404.7,201.3 L405.0,200.9 L405.3,200.7 L405.6,201.1 L405.9,201.3 L406.2,200.5 L406.5,200.7 L406.8,200.6 L407.1,200.4 L407.4,200.3 L407.7,200.6 L408.0,200.5 L408.3,200.6 L408.6,200.1 L408.9,200.1 L409.2,200.2 L409.5,200.4 L409.8,200.4 L410.1,200.3 L410.4,199.9 L410.7,200.2 L411.0,200.7 L411.3,200.2 L411.6,200.4 L411.9,200.5 L412.2,200.5 L412.5,200.5 L412.8,200.0 L413.1,200.3 L413.4,200.7 L413.7,200.2 L414.0,200.2 L414.3,200.4 L414.6,200.5 L414.9,200.1 L415.2,200.6 L415.5,200.4 L415.8,200.4 L416.1,200.4 L416.4,200.3 L416.7,199.8 L417.0,200.4 L417.3,200.5 L417.6,200.4 L417.9,200.4 L418.2,200.4 L418.5,200.1 L418.8,200.5 L419.1,200.2 L419.4,200.5 L419.7,200.4 L420.0,200.2 L420.3,200.4 L420.6,200.3 L420.9,200.4 L421.2,200.2 L421.5,200.6 L421.8,200.4 L422.1,200.6 L422.4,200.3 L422.7,200.3 L423.0,200.5 L423.3,200.2 L423.6,200.3 L423.9,200.7 L424.2,200.3 L424.5,200.5 L424.8,200.2 L425.1,200.6 L425.4,200.2 L425.7,200.3 L426.0,200.5 L426.3,200.3 L426.6,200.1 L426.9,200.3 L427.2,200.6 L427.5,200.4 L427.8,200.6 L428.1,200.7 L428.4,200.7 L428.7,200.8 L429.0,200.6 L429.3,200.8 L429.6,200.5 L429.9,201.6 L430.2,200.7 L430.5,200.8 L430.8,201.1 L431.1,200.7 L431.4,200.8 L431.7,200.8 L432.0,200.8 L432.3,200.8 L432.6,200.8 L432.9,200.7 L433.2,200.7 L433.5,200.6 L433.8,200.8 L434.1,200.7 L434.4,200.6 L434.7,201.0 L435.0,200.4 L435.3,200.9 L435.6,200.7 L435.9,200.8 L436.2,200.9 L436.5,200.8 L436.8,201.0 L437.1,201.0 L437.4,200.8 L437.7,201.0 L438.0,200.7 L438.3,201.0 L438.6,201.1 L438.9,201.2 L439.2,200.6 L439.5,201.2 L439.8,200.9 L440.1,201.1 L440.4,200.9 L440.7,201.0 L441.0,201.1 L441.3,201.0 L441.6,201.5 L441.9,201.0 L442.2,201.0 L442.5,201.0 L442.8,200.9 L443.1,201.1 L443.4,201.0 L443.7,201.3 L444.0,201.1 L444.3,201.3 L444.6,200.9 L444.9,201.2 L445.2,201.2 L445.5,201.3 L445.8,201.4 L446.1,201.2 L446.4,201.4 L446.7,201.1 L447.0,201.1 L447.3,201.4 L447.6,201.3 L447.9,201.4 L448.2,201.0 L448.5,201.2 L448.8,201.3 L449.1,201.3 L449.4,201.4 L449.7,201.7 L450.0,201.3 L450.3,201.5 L450.6,201.3 L450.9,201.5 L451.2,201.1 L451.5,201.2 L451.8,201.1 L452.1,201.3 L452.4,201.5 L452.7,201.1 L453.0,201.3 L453.3,201.2 L453.6,201.6 L453.9,201.6 L454.2,201.5 L454.5,201.4 L454.8,201.4 L455.1,201.4 L455.4,201.7 L455.7,201.5 L456.0,201.5 L456.3,201.7 L456.6,201.5 L456.9,201.5 L457.2,201.4 L457.5,201.3 L457.8,201.5 L458.1,201.5 L458.4,201.7 L458.7,201.8 L459.0,201.4 L459.3,201.6 L459.6,201.5 L459.9,201.5 L460.2,201.6 L460.5,201.5 L460.8,201.6 L461.1,201.9 L461.4,201.7 L461.7,201.6 L462.0,201.7 L462.3,201.6 L462.6,201.7 L462.9,201.8 L463.2,201.6 L463.5,201.7 L463.8,201.8 L464.1,202.2 L464.4,201.9 L464.7,201.7 L465.0,201.5 L465.3,201.8 L465.6,201.7 L465.9,201.6 L466.2,201.7 L466.5,201.8 L466.8,201.9 L467.1,201.6 L467.4,201.9 L467.7,201.8 L468.0,201.9 L468.3,202.0 L468.6,202.0 L468.9,202.1 L469.2,201.8 L469.5,202.0 L469.8,201.5 L470.1,201.9 L470.4,201.9 L470.7,201.8 L471.0,201.8 L471.3,202.3 L471.6,202.0 L471.9,202.1 L472.2,202.1 L472.5,202.0 L472.8,202.1 L473.1,202.2 L473.4,202.0 L473.7,202.3 L474.0,202.2 L474.3,202.1 L474.6,202.2 L474.9,202.4 L475.2,202.4 L475.5,202.1 L475.8,202.3 L476.1,202.2 L476.4,202.1 L476.7,202.3 L477.0,202.3 L477.3,202.6 L477.6,202.2 L477.9,202.2 L478.2,202.0 L478.5,202.2 L478.8,202.4 L479.1,202.4 L479.4,202.6 L479.7,202.5 L480.0,202.4 L480.3,202.5 L480.6,202.6 L480.9,202.2 L481.2,202.2 L481.5,202.5 L481.8,202.5 L482.1,202.2 L482.4,202.4 L482.7,202.3 L483.0,202.5 L483.3,202.7 L483.6,202.6 L483.9,202.7 L484.2,202.5 L484.5,202.4 L484.8,202.7 L485.1,202.5 L485.4,202.6 L485.7,202.7 L486.0,202.4 L486.3,202.3 L486.6,202.8 L486.9,202.6 L487.2,202.7 L487.5,202.7 L487.8,202.4 L488.1,202.7 L488.4,202.6 L488.7,202.6 L489.0,202.6 L489.3,202.7 L489.6,202.7 L489.9,202.6 L490.2,202.8 L490.5,203.0 L490.8,202.7 L491.1,202.9 L491.4,202.7 L491.7,202.7 L492.0,202.0 L492.3,202.7 L492.6,202.8 L492.9,202.7 L493.2,202.9 L493.5,202.8 L493.8,202.8 L494.1,202.6 L494.4,202.7 L494.7,202.8 L495.0,202.9 L495.3,202.9 L495.6,202.9 L495.9,202.8 L496.2,203.1 L496.5,202.9 L496.8,202.9 L497.1,202.7 L497.4,203.0 L497.7,202.7 L498.0,203.1 L498.3,202.8 L498.6,203.1 L498.9,203.0 L499.2,202.7 L499.5,203.0 L499.8,202.9 L500.1,203.1 L500.4,202.9 L500.7,202.8 L501.0,203.0 L501.3,203.4 L501.6,203.0 L501.9,203.0 L502.2,202.9 L502.5,202.9 L502.8,203.0 L503.1,203.2 L503.4,202.9 L503.7,203.0 L504.0,203.1 L504.3,203.2 L504.6,203.1 L504.9,203.1 L505.2,203.4 L505.5,203.4 L505.8,203.3 L506.1,203.1 L506.4,203.2 L506.7,203.0 L507.0,203.0 L507.3,203.1 L507.6,203.2 L507.9,203.3 L508.2,203.2 L508.5,203.1 L508.8,203.3 L509.1,203.3 L509.4,203.4 L509.7,204.1 L510.0,203.4 L510.3,203.5 L510.6,203.4 L510.9,203.4 L511.2,203.5 L511.5,203.5 L511.8,203.2 L512.1,203.5 L512.4,202.9 L512.7,203.3 L513.0,203.6 L513.3,203.3 L513.6,203.8 L513.9,203.2 L514.2,203.6 L514.5,203.4 L514.8,203.5 L515.1,203.6 L515.4,203.7 L515.7,203.7 L516.0,203.4 L516.3,203.5 L516.6,203.6 L516.9,203.6 L517.2,203.7 L517.5,203.4 L517.8,203.8 L518.1,203.8 L518.4,203.8 L518.7,203.8 L519.0,203.6 L519.3,203.6 L519.6,203.7 L519.9,203.6 L520.2,203.7 L520.5,203.8 L520.8,203.9 L521.1,203.8 L521.4,204.1 L521.7,203.8 L522.0,203.9 L522.3,204.0 L522.6,203.8 L522.9,203.5 L523.2,203.8 L523.5,203.9 L523.8,204.0 L524.1,204.0 L524.4,204.2 L524.7,204.3 L525.0,204.2 L525.3,204.3 L525.6,204.1 L525.9,204.1 L526.2,204.3 L526.5,204.1 L526.8,204.3 L527.1,204.5 L527.4,204.5 L527.7,204.6 L528.0,204.6 L528.3,204.5 L528.6,204.5 L528.9,204.5 L529.2,204.4 L529.5,204.6 L529.8,204.8 L530.1,204.6 L530.4,204.6 L530.7,204.7 L531.0,204.7 L531.3,204.7 L531.6,205.0 L531.9,205.1 L532.2,204.8 L532.5,204.8 L532.8,204.8 L533.1,204.8 L533.4,204.9 L533.7,205.1 L534.0,205.2 L534.3,204.9 L534.6,205.1 L534.9,205.1 L535.2,205.2 L535.5,205.1 L535.8,205.0 L536.1,205.0 L536.4,205.3 L536.7,205.3 L537.0,205.3 L537.3,205.4 L537.6,205.3 L537.9,205.4 L538.2,205.1 L538.5,205.7 L538.8,205.3 L539.1,205.7 L539.4,205.7 L539.7,205.6 L540.0,205.7 L540.3,205.6 L540.6,205.7 L540.9,205.7 L541.2,205.5 L541.5,206.1 L541.8,205.5 L542.1,205.9 L542.4,205.9 L542.7,206.0 L543.0,205.8 L543.3,205.7 L543.6,206.0 L543.9,205.9 L544.2,206.0 L544.5,205.9 L544.8,206.0 L545.1,206.2 L545.4,206.1 L545.7,206.2 L546.0,206.4 L546.3,206.4 L546.6,206.3 L546.9,206.4 L547.2,206.2 L547.5,206.2 L547.8,206.4 L548.1,206.4 L548.4,206.4 L548.7,206.4 L549.0,206.3 L549.3,206.6 L549.6,206.6 L549.9,206.8 L550.2,206.5 L550.5,206.5 L550.8,206.6 L551.1,206.7 L551.4,206.5 L551.7,206.8 L552.0,206.7 L552.3,206.6 L552.6,206.9 L552.9,206.9 L553.2,206.7 L553.5,206.9 L553.8,206.9 L554.1,206.9 L554.4,206.9 L554.7,207.0 L555.0,207.1 L555.3,207.0 L555.6,207.3 L555.9,206.7 L556.2,207.4 L556.5,207.3 L556.8,207.2 L557.1,207.3 L557.4,207.3 L557.7,207.2 L558.0,207.3 L558.3,207.5 L558.6,207.4 L558.9,207.6 L559.2,207.3 L559.5,207.6 L559.8,207.5 L560.1,207.5 L560.4,207.6 L560.7,207.6 L561.0,207.9 L561.3,207.8 L561.6,207.7 L561.9,208.0 L562.2,207.8 L562.5,207.8 L562.8,208.0 L563.1,207.9 L563.4,207.3 L563.7,207.9 L564.0,207.9 L564.3,207.9 L564.6,207.9 L564.9,208.0 L565.2,208.0 L565.5,208.0 L565.8,208.0 L566.1,208.3 L566.4,208.3 L566.7,208.3 L567.0,208.2 L567.3,208.2 L567.6,208.3 L567.9,208.5 L568.2,208.3 L568.5,208.3 L568.8,208.3 L569.1,208.5 L569.4,208.6 L569.7,208.7 L570.0,208.3 L570.3,208.5 L570.6,208.6 L570.9,208.5 L571.2,208.6 L571.5,208.5 L571.8,208.7 L572.1,208.9 L572.4,209.0 L572.7,208.8 L573.0,208.9 L573.3,209.1 L573.6,209.0 L573.9,209.0 L574.2,209.1 L574.5,209.0 L574.8,208.9 L575.1,209.0 L575.4,209.2 L575.7,209.1 L576.0,209.3 L576.3,209.3 L576.6,209.3 L576.9,209.5 L577.2,209.1 L577.5,209.3 L577.8,209.4 L578.1,209.3 L578.4,209.3 L578.7,209.4 L579.0,209.3 L579.3,209.6 L579.6,209.6 L579.9,209.6 L580.2,209.7 L580.5,209.6 L580.8,209.8 L581.1,209.6 L581.4,209.9 L581.7,209.8 L582.0,209.8 L582.3,209.8 L582.6,209.8 L582.9,210.0 L583.2,209.9 L583.5,210.0 L583.8,210.3 L584.1,209.9 L584.4,210.0 L584.7,210.0 L585.0,209.9 L585.3,210.2 L585.6,210.3 L585.9,210.2 L586.2,210.2 L586.5,210.4 L586.8,210.3 L587.1,210.6 L587.4,210.6 L587.7,210.5 L588.0,210.5 L588.3,210.6 L588.6,209.9 L588.9,210.7 L589.2,210.9 L589.5,210.5 L589.8,210.7 L590.1,210.9 L590.4,210.8 L590.7,210.8 L591.0,211.1 L591.3,211.5 L591.6,211.1 L591.9,211.0 L592.2,211.1 L592.5,210.9 L592.8,210.9 L593.1,211.0 L593.4,211.2 L593.7,211.4 L594.0,211.1 L594.3,211.4 L594.6,211.3 L594.9,211.2 L595.2,211.4 L595.5,211.5 L595.8,211.4 L596.1,211.5 L596.4,211.6 L596.7,211.7 L597.0,211.6 L597.3,211.6 L597.6,212.1 L597.9,211.8 L598.2,211.7 L598.5,212.1 L598.8,211.9 L599.1,212.0 L599.4,211.7 L599.7,211.9 L600.0,212.1 L600.3,212.1 L600.6,212.2 L600.9,212.1 L601.2,212.0 L601.5,212.4 L601.8,212.1 L602.1,212.3 L602.4,212.4 L602.7,212.3 L603.0,212.5 L603.3,212.3 L603.6,212.5 L603.9,212.6 L604.2,212.5 L604.5,212.4 L604.8,212.7 L605.1,212.7 L605.4,212.7 L605.7,212.7 L606.0,212.6 L606.3,212.6 L606.6,212.9 L606.9,212.7 L607.2,212.9 L607.5,212.8 L607.8,212.8 L608.1,212.8 L608.4,213.0 L608.7,213.0 L609.0,213.1 L609.3,213.1 L609.6,213.2 L609.9,213.1 L610.2,213.0 L610.5,213.1 L610.8,213.4 L611.1,213.4 L611.4,213.4 L611.7,213.6 L612.0,213.3 L612.3,213.3 L612.6,213.5 L612.9,213.8 L613.2,213.6 L613.5,213.6 L613.8,214.0 L614.1,213.8 L614.4,213.8 L614.7,213.9 L615.0,213.9 L615.3,214.0 L615.6,213.6 L615.9,213.8 L616.2,213.9 L616.5,213.8 L616.8,213.9 L617.1,214.2 L617.4,213.9 L617.7,214.3 L618.0,214.0 L618.3,214.4 L618.6,214.2 L618.9,214.4 L619.2,214.3 L619.5,214.5 L619.8,214.4 L620.1,214.4 L620.4,214.4 L620.7,215.0 L621.0,214.8 L621.3,214.5 L621.6,214.8 L621.9,214.7 L622.2,214.8 L622.5,214.9 L622.8,214.9 L623.1,214.8 L623.4,214.9 L623.7,214.9 L624.0,215.1 L624.3,215.2 L624.6,215.2 L624.9,215.2 L625.2,215.0 L625.5,215.2 L625.8,215.3 L626.1,215.3 L626.4,215.3 L626.7,215.3 L627.0,215.3 L627.3,215.5 L627.6,215.6 L627.9,215.7 L628.2,215.6 L628.5,216.0 L628.8,215.8 L629.1,215.4 L629.4,216.0 L629.7,215.9 L630.0,216.1 L630.3,216.4 L630.6,215.9 L630.9,216.4 L631.2,216.2 L631.5,216.3 L631.8,216.2 L632.1,216.2 L632.4,216.3 L632.7,216.4 L633.0,216.5 L633.3,215.8 L633.6,216.7 L633.9,216.7 L634.2,216.8 L634.5,216.5 L634.8,216.7 L635.1,216.7 L635.4,216.8 L635.7,216.7 L636.0,217.1 L636.3,216.9 L636.6,216.3 L636.9,217.2 L637.2,216.5 L637.5,217.3 L637.8,217.0 L638.1,217.2 L638.4,217.2 L638.7,217.5 L639.0,217.3 L639.3,217.3 L639.6,217.4 L639.9,217.5 L640.2,217.8 L640.5,217.6 L640.8,217.7 L641.1,217.8 L641.4,217.9 L641.7,217.9 L642.0,217.9 L642.3,217.9 L642.6,218.0 L642.9,218.1 L643.2,218.1 L643.5,218.3 L643.8,218.1 L644.1,218.1 L644.4,218.3 L644.7,218.4 L645.0,218.6 L645.3,218.6 L645.6,218.6 L645.9,218.8 L646.2,218.8 L646.5,218.6 L646.8,218.8 L647.1,218.7 L647.4,218.9 L647.7,218.8 L648.0,218.9 L648.3,218.9 L648.6,219.0 L648.9,219.1 L649.2,219.2 L649.5,219.2 L649.8,219.2 L650.1,219.3 L650.4,219.6 L650.7,219.3 L651.0,219.3 L651.3,219.5 L651.6,219.5 L651.9,219.7 L652.2,219.8 L652.5,219.9 L652.8,219.6 L653.1,219.9 L653.4,220.0 L653.7,220.0 L654.0,220.2 L654.3,220.1 L654.6,220.1 L654.9,220.3 L655.2,220.2 L655.5,220.1 L655.8,220.4 L656.1,220.2 L656.4,220.4 L656.7,220.2 L657.0,220.4 L657.3,220.6 L657.6,220.6 L657.9,220.4 L658.2,220.6 L658.5,220.9 L658.8,220.8 L659.1,220.9 L659.4,221.1 L659.7,221.0 L660.0,221.1 L660.3,221.3 L660.6,220.9 L660.9,221.2 L661.2,221.3 L661.5,221.4 L661.8,221.4 L662.1,221.3 L662.4,221.3 L662.7,221.7 L663.0,221.6 L663.3,221.4 L663.6,221.5 L663.9,221.8 L664.2,221.8 L664.5,221.8 L664.8,221.8 L665.1,221.9 L665.4,222.0 L665.7,222.0 L666.0,222.0 L666.3,221.7 L666.6,222.3 L666.9,222.1 L667.2,222.2 L667.5,222.3 L667.8,222.3 L668.1,222.3 L668.4,222.4 L668.7,222.5 L669.0,222.3 L669.3,222.7 L669.6,223.0 L669.9,222.6 L670.2,222.7 L670.5,222.9 L670.8,222.8 L671.1,222.8 L671.4,223.0 L671.7,223.0 L672.0,223.0 L672.3,223.2 L672.6,223.2 L672.9,223.3 L673.2,223.5 L673.5,223.4 L673.8,223.5 L674.1,223.5 L674.4,223.6 L674.7,223.2 L675.0,223.6 L675.3,223.7 L675.6,223.3 L675.9,223.8 L676.2,223.9 L676.5,224.0 L676.8,223.9 L677.1,224.2 L677.4,224.3 L677.7,224.3 L678.0,224.5 L678.3,224.2 L678.6,224.1 L678.9,224.3 L679.2,224.3 L679.5,224.4 L679.8,224.5 L680.1,224.7 L680.4,224.8 L680.7,224.7 L681.0,224.9 L681.3,224.9 L681.6,224.9 L681.9,225.2 L682.2,225.1 L682.5,225.2 L682.8,225.2 L683.1,225.1 L683.4,225.4 L683.7,225.7 L684.0,225.4 L684.3,225.6 L684.6,225.7 L684.9,225.7 L685.2,225.7 L685.5,225.7 L685.8,225.7 L686.1,225.8 L686.4,226.0 L686.7,226.1 L687.0,226.0 L687.3,226.4 L687.6,225.5 L687.9,226.2 L688.2,226.4 L688.5,226.3 L688.8,226.5 L689.1,226.6 L689.4,226.5 L689.7,226.5 L690.0,226.8 L690.3,227.0 L690.6,226.9 L690.9,226.8 L691.2,226.8 L691.5,227.0 L691.8,227.3 L692.1,227.8 L692.4,227.3 L692.7,227.2 L693.0,227.2 L693.3,227.6 L693.6,227.7 L693.9,227.7 L694.2,227.8 L694.5,227.8 L694.8,227.8 L695.1,227.8 L695.4,227.9 L695.7,228.0 L696.0,228.3 L696.3,228.2 L696.6,228.3 L696.9,228.5 L697.2,228.5 L697.5,228.5 L697.8,228.6 L698.1,228.7 L698.4,228.6 L698.7,228.7 L699.0,228.7 L699.3,228.8 L699.6,228.9 L699.9,228.9 L700.2,229.1 L700.5,229.2 L700.8,229.7 L701.1,229.3 L701.4,229.0 L701.7,229.3 L702.0,229.4 L702.3,229.5 L702.6,229.7 L702.9,229.7 L703.2,229.2 L703.5,229.7 L703.8,229.8 L704.1,230.0 L704.4,229.8 L704.7,230.1 L705.0,230.1 L705.3,229.8 L705.6,230.6 L705.9,230.3 L706.2,230.4 L706.5,230.3 L706.8,230.4 L707.1,230.7 L707.4,230.6 L707.7,230.8 L708.0,230.8 L708.3,230.7 L708.6,230.8 L708.9,230.8 L709.2,230.9 L709.5,231.1 L709.8,231.1 L710.1,231.0 L710.4,231.0 L710.7,231.2 L711.0,231.0 L711.3,231.3 L711.6,231.6 L711.9,231.9 L712.2,231.3 L712.5,231.6 L712.8,231.6 L713.1,231.8 L713.4,231.6 L713.7,231.8 L714.0,231.8 L714.3,232.1 L714.6,232.1 L714.9,232.0 L715.2,232.2 L715.5,232.2 L715.8,232.4 L716.1,232.4 L716.4,232.5 L716.7,232.4 L717.0,232.5 L717.3,232.1 L717.6,232.7 L717.9,232.5 L718.2,233.0 L718.5,232.9 L718.8,232.9 L719.1,232.8 L719.4,232.9 L719.7,233.2 L720.0,233.3 L720.3,233.2 L720.6,233.5 L720.9,233.8 L721.2,233.4 L721.5,233.3 L721.8,233.3 L722.1,233.7 L722.4,234.0 L722.7,234.4 L723.0,234.0 L723.3,233.9 L723.6,234.3 L723.9,234.1 L724.2,234.4 L724.5,234.6 L724.8,234.5 L725.1,234.3 L725.4,234.6 L725.7,234.5 L726.0,234.7 L726.3,234.9 L726.6,234.8 L726.9,235.1 L727.2,235.0 L727.5,235.1 L727.8,235.1 L728.1,235.3 L728.4,235.3 L728.7,235.5 L729.0,235.6 L729.3,235.6 L729.6,235.7 L729.9,235.7 L730.2,236.0 L730.5,236.0 L730.8,236.1 L731.1,236.0 L731.4,236.2 L731.7,236.2 L732.0,236.4 L732.3,236.7 L732.6,236.6 L732.9,236.6 L733.2,236.4 L733.5,236.7 L733.8,236.6 L734.1,236.8 L734.4,237.1 L734.7,237.3 L735.0,237.1 L735.3,237.0 L735.6,237.5 L735.9,237.5 L736.2,237.4 L736.5,237.3 L736.8,238.1 L737.1,237.7 L737.4,237.8 L737.7,237.6 L738.0,237.9 L738.3,238.2 L738.6,238.0 L738.9,238.3 L739.2,238.3 L739.5,238.4 L739.8,238.5 L740.1,238.4 L740.4,238.6 L740.7,238.7 L741.0,238.7 L741.3,239.0 L741.6,238.9 L741.9,238.9 L742.2,239.3 L742.5,239.3 L742.8,239.2 L743.1,239.4 L743.4,239.3 L743.7,239.5 L744.0,239.6 L744.3,239.7 L744.6,239.6 L744.9,240.1 L745.2,240.3 L745.5,239.9 L745.8,240.3 L746.1,240.1 L746.4,240.0 L746.7,240.3 L747.0,241.1 L747.3,240.3 L747.6,240.8 L747.9,240.7 L748.2,240.7 L748.5,240.8 L748.8,241.1 L749.1,240.8 L749.4,241.0 L749.7,241.1 L750.0,241.3 L750.3,241.2 L750.6,241.3 L750.9,241.4 L751.2,241.6 L751.5,241.7 L751.8,241.5 L752.1,241.7 L752.4,241.8 L752.7,242.0 L753.0,242.2 L753.3,242.0 L753.6,242.1 L753.9,242.2 L754.2,242.3 L754.5,242.5 L754.8,242.5 L755.1,242.7 L755.4,242.7 L755.7,242.9 L756.0,242.8 L756.3,243.1 L756.6,243.1 L756.9,242.5 L757.2,243.1 L757.5,242.7 L757.8,243.2 L758.1,243.4 L758.4,243.3 L758.7,243.6 L759.0,243.8 L759.3,243.9 L759.6,243.8 L759.9,243.9 L760.2,243.9 L760.5,244.1 L760.8,243.8 L761.1,244.2 L761.4,244.3 L761.7,244.4 L762.0,244.4 L762.3,244.7 L762.6,244.6 L762.9,244.8 L763.2,244.8 L763.5,244.8 L763.8,245.1 L764.1,245.1 L764.4,245.0 L764.7,245.3 L765.0,245.2 L765.3,245.4 L765.6,245.3 L765.9,245.6 L766.2,245.4 L766.5,246.2 L766.8,245.8 L767.1,246.0 L767.4,245.9 L767.7,246.3 L768.0,246.2 L768.3,246.3 L768.6,245.9 L768.9,246.6 L769.2,246.5 L769.5,246.7 L769.8,246.9 L770.1,247.0 L770.4,247.3 L770.7,247.2 L771.0,247.2 L771.3,247.3 L771.6,247.4 L771.9,247.7 L772.2,247.7 L772.5,247.6 L772.8,247.9 L773.1,248.0 L773.4,248.0 L773.7,248.2 L774.0,248.3 L774.3,248.1 L774.6,248.5 L774.9,248.3 L775.2,248.7 L775.5,248.6 L775.8,248.7 L776.1,248.9 L776.4,248.9 L776.7,249.1 L777.0,249.2 L777.3,249.5 L777.6,249.1 L777.9,249.4 L778.2,249.6 L778.5,249.5 L778.8,249.6 L779.1,249.7 L779.4,249.9 L779.7,250.2 L780.0,249.8 L780.3,250.1 L780.6,250.0 L780.9,250.5 L781.2,250.3 L781.5,250.5 L781.8,250.3 L782.1,250.6 L782.4,250.7 L782.7,250.8 L783.0,251.0 L783.3,250.9 L783.6,251.1 L783.9,251.0 L784.2,250.9 L784.5,251.2 L784.8,251.3 L785.1,251.2 L785.4,251.3 L785.7,251.4 L786.0,251.3 L786.3,251.9 L786.6,251.7 L786.9,251.4 L787.2,251.7 L787.5,251.9 L787.8,251.6 L788.1,251.8 L788.4,251.9 L788.7,252.1 L789.0,252.1 L789.3,252.1 L789.6,252.5 L789.9,252.2 L790.2,252.3 L790.5,251.9 L790.8,252.5 L791.1,252.3 L791.4,252.4 L791.7,252.6 L792.0,252.4 L792.3,252.5 L792.6,252.6 L792.9,252.7 L793.2,252.8 L793.5,252.8 L793.8,252.9 L794.1,252.9 L794.4,252.8 L794.7,252.9 L795.0,253.1 L795.3,252.9 L795.6,252.9 L795.9,253.1 L796.2,253.1 L796.5,253.1 L796.8,253.2 L797.1,253.5 L797.4,253.4 L797.7,253.4 L798.0,253.6 L798.3,253.7 L798.6,253.5 L798.9,253.8 L799.2,253.5 L799.5,253.4 L799.8,253.5 L800.1,253.8 L800.4,253.8 L800.7,254.0 L801.0,254.0 L801.2,253.8"/>
<path stroke="#00ff00" d="M104.7,487.8 L105.0,487.8 L105.3,487.7 L105.6,487.7 L105.9,487.6 L106.2,487.6 L106.5,487.6 L106.8,487.5 L107.1,487.5 L107.4,487.4 L107.7,487.4 L108.0,487.3 L108.3,487.3 L108.6,487.3 L108.9,487.2 L109.2,487.2 L109.5,487.1 L109.8,487.1 L110.1,487.0 L110.4,487.0 L110.7,486.9 L111.0,486.9 L111.3,486.9 L111.6,486.8 L111.9,486.8 L112.2,486.7 L112.5,486.7 L112.8,486.6 L113.1,486.6 L113.4,486.5 L113.7,486.5 L114.0,486.4 L114.3,486.4 L114.6,486.3 L114.9,486.3 L115.2,486.2 L115.5,486.2 L115.8,486.1 L116.1,486.1 L116.4,486.0 L116.7,486.0 L117.0,485.9 L117.3,485.9 L117.6,485.8 L117.9,485.8 L118.2,485.7 L118.5,485.7 L118.8,485.6 L119.1,485.6 L119.4,485.5 L119.7,485.5 L120.0,485.4 L120.3,485.3 L120.6,485.3 L120.9,485.2 L121.2,485.2 L121.5,485.1 L121.8,485.1 L122.1,485.0 L122.4,485.0 L122.7,484.9 L123.0,484.8 L123.3,484.8 L123.6,484.7 L123.9,484.7 L124.2,484.6 L124.5,484.5 L124.8,484.5 L125.1,484.4 L125.4,484.3 L125.7,484.3 L126.0,484.2 L126.3,484.2 L126.6,484.1 L126.9,484.0 L127.2,484.0 L127.5,483.9 L127.8,483.8 L128.1,483.8 L128.4,483.7 L128.7,483.6 L129.0,483.6 L129.3,483.5 L129.6,483.4 L129.9,483.4 L130.2,483.3 L130.5,483.3 L130.8,483.2 L131.1,483.1 L131.4,483.0 L131.7,483.0 L132.0,482.9 L132.3,482.8 L132.6,482.8 L132.9,482.7 L133.2,482.6 L133.5,482.6 L133.8,482.5 L134.1,482.4 L134.4,482.4 L134.7,482.3 L135.0,482.2 L135.3,482.2 L135.6,482.1 L135.9,482.0 L136.2,482.0 L136.5,481.9 L136.8,481.8 L137.1,481.8 L137.4,481.7 L137.7,481.6 L138.0,481.6 L138.3,481.5 L138.6,481.4 L138.9,481.3 L139.2,481.3 L139.5,481.2 L139.8,481.1 L140.1,481.1 L140.4,481.0 L140.7,480.9 L141.0,480.9 L141.3,480.8 L141.6,480.7 L141.9,480.7 L142.2,480.6 L142.5,480.5 L142.8,480.5 L143.1,480.4 L143.4,480.3 L143.7,480.3 L144.0,480.2 L144.3,480.1 L144.6,480.1 L144.9,480.0 L145.2,479.9 L145.5,479.9 L145.8,479.8 L146.1,479.7 L146.4,479.7 L146.7,479.6 L147.0,479.5 L147.3,479.5 L147.6,479.4 L147.9,479.3 L148.2,479.3 L148.5,479.2 L148.8,479.1 L149.1,479.1 L149.4,479.0 L149.7,478.9 L150.0,478.8 L150.3,478.8 L150.6,478.7 L150.9,478.6 L151.2,478.6 L151.5,478.5 L151.8,478.4 L152.1,478.4 L152.4,478.3 L152.7,478.2 L153.0,478.1 L153.3,478.1 L153.6,478.0 L153.9,477.9 L154.2,477.9 L154.5,477.8 L154.8,477.7 L155.1,477.6 L155.4,477.6 L155.7,477.5 L156.0,477.4 L156.3,477.3 L156.6,477.3 L156.9,477.2 L157.2,477.1 L157.5,477.0 L157.8,477.0 L158.1,476.9 L158.4,476.8 L158.7,476.7 L159.0,476.7 L159.3,476.6 L159.6,476.5 L159.9,476.4 L160.2,476.3 L160.5,476.3 L160.8,476.2 L161.1,476.1 L161.4,476.0 L161.7,475.9 L162.0,475.9 L162.3,475.8 L162.6,475.7 L162.9,475.6 L163.2,475.5 L163.5,475.5 L163.8,475.4 L164.1,475.3 L164.4,475.2 L164.7,475.1 L165.0,475.0 L165.3,475.0 L165.6,474.9 L165.9,474.8 L166.2,474.7 L166.5,474.6 L166.8,474.5 L167.1,474.4 L167.4,474.3 L167.7,474.3 L168.0,474.2 L168.3,474.1 L168.6,474.0 L168.9,473.9 L169.2,473.8 L169.5,473.7 L169.8,473.6 L170.1,473.5 L170.4,473.4 L170.7,473.3 L171.0,473.2 L171.3,473.1 L171.6,473.0 L171.9,472.9 L172.2,472.8 L172.5,472.7 L172.8,472.6 L173.1,472.5 L173.4,472.4 L173.7,472.3 L174.0,472.2 L174.3,472.1 L174.6,472.0 L174.9,471.9 L175.2,471.8 L175.5,471.7 L175.8,471.6 L176.1,471.5 L176.4,471.4 L176.7,471.3 L177.0,471.2 L177.3,471.0 L177.6,470.9 L177.9,470.8 L178.2,470.7 L178.5,470.6 L178.8,470.5 L179.1,470.3 L179.4,470.2 L179.7,470.1 L180.0,469.9 L180.3,469.8 L180.6,469.7 L180.9,469.5 L181.2,469.4 L181.5,469.3 L181.8,469.1 L182.1,469.0 L182.4,468.8 L182.7,468.7 L183.0,468.5 L183.3,468.3 L183.6,468.2 L183.9,468.0 L184.2,467.8 L184.5,467.7 L184.8,467.5 L185.1,467.3 L185.4,467.1 L185.7,467.0 L186.0,466.8 L186.3,466.6 L186.6,466.4 L186.9,466.2 L187.2,466.0 L187.5,465.8 L187.8,465.6 L188.1,465.4 L188.4,465.2 L188.7,465.0 L189.0,464.8 L189.3,464.6 L189.6,464.4 L189.9,464.2 L190.2,464.0 L190.5,463.7 L190.8,463.5 L191.1,463.3 L191.4,463.1 L191.7,462.8 L192.0,462.6 L192.3,462.3 L192.6,462.1 L192.9,461.9 L193.2,461.6 L193.5,461.4 L193.8,461.1 L194.1,460.8 L194.4,460.6 L194.7,460.3 L195.0,460.1 L195.3,459.8 L195.6,459.5 L195.9,459.2 L196.2,458.9 L196.5,458.7 L196.8,458.4 L197.1,458.1 L197.4,457.8 L197.7,457.5 L198.0,457.1 L198.3,456.8 L198.6,456.5 L198.9,456.2 L199.2,455.8 L199.5,455.5 L199.8,455.2 L200.1,454.8 L200.4,454.4 L200.7,454.0 L201.0,453.6 L201.3,453.2 L201.6,452.8 L201.9,452.4 L202.2,452.0 L202.5,451.6 L202.8,451.2 L203.1,450.8 L203.4,450.4 L203.7,450.0 L204.0,449.5 L204.3,449.1 L204.6,448.7 L204.9,448.3 L205.2,447.9 L205.5,447.5 L205.8,447.0 L206.1,446.5 L206.4,446.1 L206.7,445.6 L207.0,445.1 L207.3,444.5 L207.6,444.0 L207.9,443.4 L208.2,442.8 L208.5,442.2 L208.8,441.5 L209.1,440.8 L209.4,439.9 L209.7,438.9 L210.0,437.8 L210.3,436.6 L210.6,435.5 L210.9,434.4 L211.2,433.4 L211.5,432.5 L211.8,431.6 L212.1,430.5 L212.4,428.5 L212.7,425.2 L213.0,421.5 L213.3,418.5 L213.6,420.1 L213.9,417.8 L214.2,411.3 L214.5,411.4 L214.8,412.6 L215.1,408.2 L215.4,404.4 L215.7,408.8 L216.0,404.4 L216.3,406.9 L216.6,410.3 L216.9,401.8 L217.2,402.4 L217.5,402.1 L217.8,406.0 L218.1,403.4 L218.4,406.3 L218.7,404.3 L219.0,401.7 L219.3,400.8 L219.6,399.2 L219.9,395.6 L220.2,397.1 L220.5,398.9 L220.8,398.2 L221.1,398.5 L221.4,395.6 L221.7,397.0 L222.0,397.4 L222.3,394.1 L222.6,391.2 L222.9,391.7 L223.2,395.1 L223.5,393.0 L223.8,393.1 L224.1,394.1 L224.4,392.6 L224.7,390.3 L225.0,390.9 L225.3,386.9 L225.6,389.0 L225.9,389.3 L226.2,384.5 L226.5,388.2 L226.8,384.4 L227.1,385.7 L227.4,383.3 L227.7,384.6 L228.0,384.3 L228.3,380.5 L228.6,378.7 L228.9,380.0 L229.2,380.7 L229.5,378.2 L229.8,376.6 L230.1,375.3 L230.4,373.2 L230.7,375.1 L231.0,373.5 L231.3,374.8 L231.6,372.9 L231.9,370.3 L232.2,371.9 L232.5,369.9 L232.8,368.7 L233.1,369.4 L233.4,369.1 L233.7,368.0 L234.0,369.2 L234.3,367.3 L234.6,367.4 L234.9,368.4 L235.2,364.5 L235.5,365.4 L235.8,364.4 L236.1,363.7 L236.4,362.2 L236.7,361.5 L237.0,361.4 L237.3,363.0 L237.6,360.2 L237.9,359.8 L238.2,358.1 L238.5,360.0 L238.8,357.6 L239.1,357.6 L239.4,352.7 L239.7,354.4 L240.0,353.3 L240.3,356.5 L240.6,352.3 L240.9,351.7 L241.2,352.5 L241.5,353.1 L241.8,347.5 L242.1,349.5 L242.4,349.5 L242.7,348.5 L243.0,348.1 L243.3,345.9 L243.6,343.8 L243.9,346.7 L244.2,346.5 L244.5,344.9 L244.8,343.3 L245.1,343.6 L245.4,342.7 L245.7,342.8 L246.0,341.8 L246.3,340.5 L246.6,340.7 L246.9,338.7 L247.2,340.1 L247.5,338.3 L247.8,337.0 L248.1,337.9 L248.4,336.0 L248.7,337.4 L249.0,335.8 L249.3,335.0 L249.6,335.6 L249.9,333.7 L250.2,332.9 L250.5,332.4 L250.8,332.3 L251.1,331.5 L251.4,331.4 L251.7,330.7 L252.0,330.8 L252.3,330.5 L252.6,328.6 L252.9,327.2 L253.2,328.5 L253.5,328.3 L253.8,326.6 L254.1,326.9 L254.4,325.9 L254.7,326.4 L255.0,323.0 L255.3,324.4 L255.6,323.2 L255.9,322.2 L256.2,322.8 L256.5,320.7 L256.8,321.5 L257.1,321.8 L257.4,320.3 L257.7,318.9 L258.0,319.4 L258.3,317.7 L258.6,316.5 L258.9,318.7 L259.2,316.7 L259.5,315.5 L259.8,314.7 L260.1,314.4 L260.4,314.4 L260.7,313.1 L261.0,312.8 L261.3,312.4 L261.6,311.8 L261.9,312.1 L262.2,312.3 L262.5,310.9 L262.8,309.7 L263.1,309.7 L263.4,309.0 L263.7,308.7 L264.0,307.9 L264.3,306.4 L264.6,305.6 L264.9,306.0 L265.2,305.9 L265.5,305.6 L265.8,304.1 L266.1,302.8 L266.4,303.3 L266.7,302.0 L267.0,301.6 L267.3,301.7 L267.6,299.5 L267.9,298.7 L268.2,297.9 L268.5,298.6 L268.8,298.3 L269.1,297.9 L269.4,296.9 L269.7,298.2 L270.0,295.3 L270.3,295.3 L270.6,294.3 L270.9,293.9 L271.2,293.9 L271.5,293.4 L271.8,291.6 L272.1,291.4 L272.4,291.6 L272.7,291.9 L273.0,290.0 L273.3,289.7 L273.6,288.6 L273.9,289.9 L274.2,288.4 L274.5,288.0 L274.8,287.8 L275.1,286.9 L275.4,286.2 L275.7,285.2 L276.0,285.1 L276.3,284.2 L276.6,284.2 L276.9,282.7 L277.2,282.2 L277.5,282.1 L277.8,281.8 L278.1,280.7 L278.4,279.7 L278.7,279.4 L279.0,278.6 L279.3,279.0 L279.6,278.0 L279.9,277.5 L280.2,276.5 L280.5,275.6 L280.8,275.7 L281.1,275.5 L281.4,274.2 L281.7,273.4 L282.0,273.2 L282.3,272.1 L282.6,271.9 L282.9,270.7 L283.2,269.6 L283.5,270.0 L283.8,268.4 L284.1,269.3 L284.4,267.9 L284.7,267.4 L285.0,266.4 L285.3,265.6 L285.6,265.0 L285.9,265.5 L286.2,264.0 L286.5,264.1 L286.8,263.6 L287.1,262.5 L287.4,262.5 L287.7,261.5 L288.0,261.1 L288.3,260.1 L288.6,259.8 L288.9,258.7 L289.2,258.5 L289.5,257.6 L289.8,257.1 L290.1,256.7 L290.4,256.0 L290.7,255.3 L291.0,254.9 L291.3,254.3 L291.6,253.2 L291.9,253.7 L292.2,252.5 L292.5,251.5 L292.8,251.2 L293.1,250.2 L293.4,250.2 L293.7,249.3 L294.0,248.7 L294.3,248.4 L294.6,247.5 L294.9,247.1 L295.2,246.1 L295.5,245.6 L295.8,244.9 L296.1,244.5 L296.4,244.2 L296.7,243.5 L297.0,243.0 L297.3,242.1 L297.6,241.5 L297.9,241.0 L298.2,240.6 L298.5,240.5 L298.8,239.4 L299.1,238.9 L299.4,238.2 L299.7,237.7 L300.0,237.3 L300.3,236.5 L300.6,235.9 L300.9,235.6 L301.2,234.9 L301.5,234.4 L301.8,233.7 L302.1,233.4 L302.4,232.4 L302.7,232.0 L303.0,231.4 L303.3,231.1 L303.6,230.4 L303.9,230.1 L304.2,229.1 L304.5,228.7 L304.8,228.1 L305.1,227.5 L305.4,226.8 L305.7,226.3 L306.0,225.9 L306.3,225.3 L306.6,224.7 L306.9,224.1 L307.2,223.4 L307.5,223.0 L307.8,222.3 L308.1,221.8 L308.4,221.3 L308.7,220.6 L309.0,220.0 L309.3,219.6 L309.6,219.0 L309.9,218.3 L310.2,217.5 L310.5,217.2 L310.8,216.7 L311.1,216.0 L311.4,215.5 L311.7,214.9 L312.0,214.4 L312.3,213.9 L312.6,213.2 L312.9,212.7 L313.2,212.1 L313.5,211.7 L313.8,210.9 L314.1,210.6 L314.4,209.9 L314.7,209.4 L315.0,209.0 L315.3,208.5 L315.6,207.7 L315.9,207.4 L316.2,206.8 L316.5,206.2 L316.8,205.9 L317.1,205.2 L317.4,204.8 L317.7,204.1 L318.0,203.5 L318.3,203.2 L318.6,202.8 L318.9,202.1 L319.2,201.6 L319.5,200.9 L319.8,200.7 L320.1,199.9 L320.4,199.8 L320.7,198.8 L321.0,198.4 L321.3,197.7 L321.6,197.5 L321.9,197.1 L322.2,196.3 L322.5,195.9 L322.8,195.7 L323.1,195.0 L323.4,194.4 L323.7,193.9 L324.0,193.4 L324.3,193.2 L324.6,192.6 L324.9,192.4 L325.2,191.9 L325.5,191.3 L325.8,190.9 L326.1,190.6 L326.4,190.1 L326.7,189.6 L327.0,189.0 L327.3,188.9 L327.6,188.2 L327.9,187.7 L328.2,187.4 L328.5,187.4 L328.8,186.9 L329.1,186.2 L329.4,185.7 L329.7,185.7 L330.0,185.1 L330.3,184.5 L330.6,184.1 L330.9,183.7 L331.2,183.6 L331.5,183.0 L331.8,182.6 L332.1,182.2 L332.4,182.0 L332.7,181.4 L333.0,181.1 L333.3,180.7 L333.6,180.3 L333.9,179.7 L334.2,179.5 L334.5,179.2 L334.8,178.6 L335.1,178.1 L335.4,177.7 L335.7,177.5 L336.0,177.0 L336.3,176.6 L336.6,176.3 L336.9,176.0 L337.2,175.6 L337.5,175.1 L337.8,174.7 L338.1,174.0 L338.4,174.0 L338.7,173.5 L339.0,173.0 L339.3,172.9 L339.6,172.3 L339.9,171.9 L340.2,171.4 L340.5,171.2 L340.8,170.7 L341.1,170.1 L341.4,170.1 L341.7,169.6 L342.0,169.3 L342.3,168.9 L342.6,168.4 L342.9,168.0 L343.2,167.7 L343.5,167.3 L343.8,166.9 L344.1,166.4 L344.4,166.2 L344.7,165.7 L345.0,165.2 L345.3,164.7 L345.6,164.6 L345.9,164.2 L346.2,163.8 L346.5,163.3 L346.8,162.9 L347.1,162.5 L347.4,162.2 L347.7,162.1 L348.0,161.4 L348.3,161.0 L348.6,160.7 L348.9,160.3 L349.2,159.8 L349.5,159.6 L349.8,159.2 L350.1,158.8 L350.4,158.3 L350.7,157.9 L351.0,157.4 L351.3,157.2 L351.6,156.5 L351.9,156.3 L352.2,155.7 L352.5,155.4 L352.8,155.2 L353.1,154.7 L353.4,154.2 L353.7,153.9 L354.0,153.7 L354.3,153.3 L354.6,152.9 L354.9,152.4 L355.2,152.1 L355.5,151.9 L355.8,151.2 L356.1,151.0 L356.4,150.8 L356.7,150.3 L357.0,149.8 L357.3,149.5 L357.6,149.0 L357.9,148.7 L358.2,148.5 L358.5,148.2 L358.8,147.2 L359.1,147.3 L359.4,147.1 L359.7,146.4 L360.0,146.1 L360.3,145.9 L360.6,145.3 L360.9,145.0 L361.2,144.6 L361.5,144.0 L361.8,143.9 L362.1,143.5 L362.4,143.2 L362.7,143.0 L363.0,142.5 L363.3,142.0 L363.6,141.7 L363.9,141.3 L364.2,141.4 L364.5,140.4 L364.8,140.0 L365.1,139.6 L365.4,139.6 L365.7,139.1 L366.0,138.7 L366.3,138.3 L366.6,138.0 L366.9,137.6 L367.2,137.3 L367.5,136.9 L367.8,136.8 L368.1,136.3 L368.4,135.8 L368.7,135.2 L369.0,135.4 L369.3,134.7 L369.6,134.6 L369.9,134.3 L370.2,134.1 L370.5,133.4 L370.8,133.1 L371.1,132.6 L371.4,132.6 L371.7,132.1 L372.0,131.8 L372.3,131.4 L372.6,131.3 L372.9,130.8 L373.2,130.5 L373.5,130.4 L373.8,129.7 L374.1,129.4 L374.4,129.6 L374.7,128.8 L375.0,128.5 L375.3,128.1 L375.6,127.9 L375.9,127.7 L376.2,127.2 L376.5,127.0 L376.8,126.6 L377.1,125.8 L377.4,126.0 L377.7,125.8 L378.0,125.5 L378.3,125.0 L378.6,124.8 L378.9,124.3 L379.2,124.0 L379.5,123.5 L379.8,123.3 L380.1,123.1 L380.4,122.7 L380.7,122.5 L381.0,122.1 L381.3,121.9 L381.6,121.4 L381.9,121.0 L382.2,120.7 L382.5,120.3 L382.8,120.5 L383.1,119.9 L383.4,119.5 L383.7,119.2 L384.0,119.0 L384.3,118.5 L384.6,118.1 L384.9,118.1 L385.2,117.7 L385.5,117.1 L385.8,116.8 L386.1,116.5 L386.4,116.3 L386.7,116.1 L387.0,116.0 L387.3,115.2 L387.6,115.2 L387.9,114.9 L388.2,114.5 L388.5,114.1 L388.8,113.8 L389.1,113.2 L389.4,113.2 L389.7,113.2 L390.0,112.5 L390.3,112.2 L390.6,112.2 L390.9,111.7 L391.2,111.4 L391.5,111.4 L391.8,111.0 L392.1,110.7 L392.4,110.2 L392.7,110.1 L393.0,109.8 L393.3,109.6 L393.6,108.9 L393.9,109.1 L394.2,108.6 L394.5,108.4 L394.8,107.9 L395.1,107.9 L395.4,107.6 L395.7,107.2 L396.0,106.8 L396.3,106.7 L396.6,106.2 L396.9,106.2 L397.2,105.9 L397.5,105.4 L397.8,105.3 L398.1,105.2 L398.4,104.9 L398.7,104.6 L399.0,104.1 L399.3,103.8 L399.6,103.6 L399.9,103.4 L400.2,103.4 L400.5,103.0 L400.8,102.7 L401.1,102.4 L401.4,101.7 L401.7,101.6 L402.0,101.3 L402.3,101.3 L402.6,101.1 L402.9,100.4 L403.2,100.2 L403.5,100.1 L403.8,99.6 L404.1,99.3 L404.4,99.0 L404.7,99.0 L405.0,98.4 L405.3,98.4 L405.6,98.0 L405.9,97.8 L406.2,97.7 L406.5,97.0 L406.8,96.7 L407.1,96.4 L407.4,96.2 L407.7,95.9 L408.0,95.8 L408.3,95.5 L408.6,95.1 L408.9,94.9 L409.2,94.8 L409.5,95.0 L409.8,93.8 L410.1,94.2 L410.4,93.8 L410.7,93.2 L411.0,92.9 L411.3,93.0 L411.6,93.0 L411.9,92.4 L412.2,92.3 L412.5,91.8 L412.8,91.6 L413.1,91.4 L413.4,91.2 L413.7,91.4 L414.0,91.1 L414.3,90.4 L414.6,90.0 L414.9,90.2 L415.2,89.7 L415.5,89.4 L415.8,88.9 L416.1,89.0 L416.4,88.5 L416.7,88.3 L417.0,87.9 L417.3,87.8 L417.6,87.7 L417.9,87.2 L418.2,87.1 L418.5,87.0 L418.8,86.6 L419.1,86.4 L419.4,86.2 L419.7,86.2 L420.0,86.0 L420.3,85.5 L420.6,85.6 L420.9,85.4 L421.2,84.9 L421.5,84.9 L421.8,84.6 L422.1,84.3 L422.4,84.2 L422.7,84.0 L423.0,84.0 L423.3,83.8 L423.6,83.3 L423.9,83.3 L424.2,83.2 L424.5,83.1 L424.8,82.2 L425.1,82.7 L425.4,82.3 L425.7,82.4 L426.0,81.8 L426.3,81.6 L426.6,81.6 L426.9,81.6 L427.2,81.2 L427.5,80.5 L427.8,80.9 L428.1,80.3 L428.4,80.3 L428.7,80.3 L429.0,79.7 L429.3,79.6 L429.6,79.5 L429.9,79.3 L430.2,79.3 L430.5,79.0 L430.8,79.0 L431.1,78.7 L431.4,78.8 L431.7,78.6 L432.0,78.2 L432.3,78.1 L432.6,78.0 L432.9,77.9 L433.2,77.8 L433.5,77.2 L433.8,77.0 L434.1,77.3 L434.4,77.1 L434.7,77.0 L435.0,75.9 L435.3,76.2 L435.6,75.3 L435.9,76.0 L436.2,75.7 L436.5,75.7 L436.8,75.3 L437.1,76.0 L437.4,74.9 L437.7,75.1 L438.0,74.8 L438.3,74.6 L438.6,75.0 L438.9,74.1 L439.2,73.7 L439.5,73.9 L439.8,73.8 L440.1,73.4 L440.4,73.4 L440.7,73.3 L441.0,72.6 L441.3,72.7 L441.6,72.4 L441.9,72.1 L442.2,72.3 L442.5,71.8 L442.8,71.7 L443.1,71.7 L443.4,71.0 L443.7,71.4 L444.0,71.7 L444.3,70.9 L444.6,70.9 L444.9,70.3 L445.2,70.6 L445.5,70.6 L445.8,70.5 L446.1,69.8 L446.4,69.8 L446.7,70.0 L447.0,69.5 L447.3,69.6 L447.6,68.9 L447.9,69.4 L448.2,69.2 L448.5,68.9 L448.8,68.4 L449.1,68.4 L449.4,68.3 L449.7,68.2 L450.0,68.0 L450.3,67.8 L450.6,67.8 L450.9,68.0 L451.2,67.3 L451.5,66.9 L451.8,66.7 L452.1,66.8 L452.4,66.3 L452.7,66.9 L453.0,66.6 L453.3,66.3 L453.6,66.0 L453.9,66.2 L454.2,66.1 L454.5,66.0 L454.8,65.5 L455.1,65.8 L455.4,64.8 L455.7,65.9 L456.0,63.9 L456.3,64.8 L456.6,64.4 L456.9,65.2 L457.2,64.0 L457.5,65.5 L457.8,63.7 L458.1,65.4 L458.4,64.5 L458.7,64.2 L459.0,64.3 L459.3,65.1 L459.6,64.3 L459.9,62.4 L460.2,64.3 L460.5,63.7 L460.8,62.4 L461.1,63.8 L461.4,62.5 L461.7,62.8 L462.0,63.2 L462.3,62.5 L462.6,63.3 L462.9,62.1 L463.2,63.2 L463.5,62.2 L463.8,62.4 L464.1,63.8 L464.4,62.4 L464.7,61.4 L465.0,62.0 L465.3,61.4 L465.6,62.0 L465.9,62.0 L466.2,61.8 L466.5,61.7 L466.8,61.1 L467.1,61.9 L467.4,62.3 L467.7,60.8 L468.0,61.2 L468.3,61.2 L468.6,62.1 L468.9,61.9 L469.2,60.2 L469.5,60.8 L469.8,59.3 L470.1,59.7 L470.4,60.5 L470.7,61.0 L471.0,61.2 L471.3,59.9 L471.6,58.9 L471.9,61.1 L472.2,59.8 L472.5,60.3 L472.8,59.9 L473.1,60.3 L473.4,60.1 L473.7,60.2 L474.0,58.9 L474.3,60.1 L474.6,58.5 L474.9,58.9 L475.2,60.4 L475.5,58.8 L475.8,57.2 L476.1,59.4 L476.4,58.7 L476.7,58.7 L477.0,57.6 L477.3,55.1 L477.6,56.7 L477.9,56.1 L478.2,57.9 L478.5,56.0 L478.8,56.0 L479.1,55.6 L479.4,57.6 L479.7,56.6 L480.0,55.3 L480.3,55.5 L480.6,55.9 L480.9,56.1 L481.2,53.7 L481.5,56.0 L481.8,54.9 L482.1,54.4 L482.4,54.6 L482.7,54.0 L483.0,56.4 L483.3,54.9 L483.6,55.2 L483.9,53.8 L484.2,55.0 L484.5,53.8 L484.8,53.0 L485.1,53.9 L485.4,55.1 L485.7,52.6 L486.0,53.9 L486.3,54.7 L486.6,52.5 L486.9,53.7 L487.2,54.1 L487.5,54.8 L487.8,52.7 L488.1,52.4 L488.4,54.1 L488.7,54.9 L489.0,54.8 L489.3,54.0 L489.6,54.1 L489.9,52.0 L490.2,52.3 L490.5,52.6 L490.8,53.2 L491.1,54.3 L491.4,51.7 L491.7,53.1 L492.0,51.7 L492.3,51.8 L492.6,54.6 L492.9,53.3 L493.2,54.7 L493.5,54.2 L493.8,52.2 L494.1,51.3 L494.4,55.0 L494.7,52.6 L495.0,54.5 L495.3,53.6 L495.6,53.0 L495.9,52.7 L496.2,52.5 L496.5,52.9 L496.8,52.8 L497.1,53.4 L497.4,52.3 L497.7,52.3 L498.0,53.2 L498.3,52.9 L498.6,53.6 L498.9,52.3 L499.2,52.4 L499.5,51.4 L499.8,53.8 L500.1,51.1 L500.4,52.5 L500.7,51.5 L501.0,52.6 L501.3,53.0 L501.6,50.7 L501.9,52.8 L502.2,50.5 L502.5,53.4 L502.8,51.7 L503.1,50.6 L503.4,51.3 L503.7,52.4 L504.0,53.4 L504.3,53.1 L504.6,51.1 L504.9,51.7 L505.2,53.4 L505.5,51.1 L505.8,51.4 L506.1,50.8 L506.4,48.9 L506.7,52.8 L507.0,52.2 L507.3,52.0 L507.6,52.1 L507.9,52.5 L508.2,53.0 L508.5,51.5 L508.8,51.2 L509.1,50.5 L509.4,52.5 L509.7,50.9 L510.0,50.0 L510.3,51.1 L510.6,51.4 L510.9,52.1 L511.2,52.3 L511.5,50.6 L511.8,50.5 L512.1,51.0 L512.4,50.1 L512.7,51.1 L513.0,51.7 L513.3,51.3 L513.6,49.7 L513.9,50.0 L514.2,52.4 L514.5,50.2 L514.8,51.8 L515.1,54.3 L515.4,50.8 L515.7,50.1 L516.0,51.3 L516.3,50.2 L516.6,50.0 L516.9,51.2 L517.2,50.4 L517.5,50.8 L517.8,50.7 L518.1,49.8 L518.4,50.8 L518.7,50.4 L519.0,49.3 L519.3,50.7 L519.6,50.7 L519.9,50.4 L520.2,49.0 L520.5,51.7 L520.8,50.2 L521.1,51.6 L521.4,51.3 L521.7,50.4 L522.0,51.1 L522.3,50.1 L522.6,53.1 L522.9,50.5 L523.2,51.6 L523.5,49.5 L523.8,49.9 L524.1,48.1 L524.4,51.7 L524.7,51.5 L525.0,51.3 L525.3,49.2 L525.6,52.1 L525.9,50.1 L526.2,52.6 L526.5,52.8 L526.8,51.8 L527.1,52.0 L527.4,49.8 L527.7,53.5 L528.0,51.2 L528.3,54.2 L528.6,50.2 L528.9,50.9 L529.2,49.8 L529.5,50.8 L529.8,51.0 L530.1,51.2 L530.4,52.4 L530.7,51.5 L531.0,51.2 L531.3,51.0 L531.6,53.0 L531.9,50.5 L532.2,52.2 L532.5,49.1 L532.8,50.2 L533.1,51.5 L533.4,50.9 L533.7,54.0 L534.0,53.6 L534.3,49.6 L534.6,50.1 L534.9,51.0 L535.2,54.4 L535.5,50.7 L535.8,51.5 L536.1,49.8 L536.4,50.4 L536.7,48.6 L537.0,49.7 L537.3,51.7 L537.6,52.0 L537.9,50.0 L538.2,51.8 L538.5,52.9 L538.8,51.5 L539.1,51.1 L539.4,51.1 L539.7,51.9 L540.0,51.5 L540.3,50.9 L540.6,51.0 L540.9,51.5 L541.2,50.9 L541.5,52.8 L541.8,53.7 L542.1,52.6 L542.4,53.5 L542.7,53.1 L543.0,53.0 L543.3,52.0 L543.6,51.4 L543.9,51.2 L544.2,51.0 L544.5,51.1 L544.8,50.9 L545.1,49.7 L545.4,52.2 L545.7,52.8 L546.0,51.6 L546.3,50.1 L546.6,52.2 L546.9,52.9 L547.2,52.0 L547.5,51.8 L547.8,52.5 L548.1,53.4 L548.4,52.0 L548.7,50.7 L549.0,51.5 L549.3,50.4 L549.6,50.4 L549.9,53.2 L550.2,51.5 L550.5,50.1 L550.8,52.5 L551.1,52.0 L551.4,54.0 L551.7,53.2 L552.0,51.8 L552.3,52.8 L552.6,53.4 L552.9,52.6 L553.2,51.7 L553.5,53.4 L553.8,53.3 L554.1,54.8 L554.4,52.6 L554.7,53.1 L555.0,52.4 L555.3,51.5 L555.6,53.1 L555.9,53.9 L556.2,52.1 L556.5,51.1 L556.8,52.0 L557.1,54.6 L557.4,52.7 L557.7,54.0 L558.0,52.6 L558.3,53.6 L558.6,52.9 L558.9,51.3 L559.2,53.7 L559.5,54.2 L559.8,51.7 L560.1,53.6 L560.4,53.4 L560.7,52.8 L561.0,54.1 L561.3,52.1 L561.6,54.3 L561.9,55.3 L562.2,52.9 L562.5,54.1 L562.8,55.7 L563.1,54.4 L563.4,53.8 L563.7,53.5 L564.0,54.6 L564.3,54.3 L564.6,55.2 L564.9,53.1 L565.2,55.7 L565.5,54.3 L565.8,55.4 L566.1,54.0 L566.4,53.5 L566.7,54.3 L567.0,54.0 L567.3,54.6 L567.6,55.6 L567.9,56.1 L568.2,55.3 L568.5,54.6 L568.8,54.7 L569.1,55.8 L569.4,58.6 L569.7,55.0 L570.0,55.3 L570.3,54.7 L570.6,55.7 L570.9,56.5 L571.2,52.7 L571.5,55.9 L571.8,54.1 L572.1,53.4 L572.4,56.1 L572.7,55.8 L573.0,56.3 L573.3,54.6 L573.6,58.2 L573.9,54.9 L574.2,55.8 L574.5,58.3 L574.8,56.9 L575.1,57.1 L575.4,57.5 L575.7,54.3 L576.0,58.1 L576.3,56.2 L576.6,56.9 L576.9,57.5 L577.2,56.0 L577.5,57.1 L577.8,57.6 L578.1,56.8 L578.4,57.4 L578.7,55.3 L579.0,55.8 L579.3,55.9 L579.6,57.5 L579.9,60.5 L580.2,57.5 L580.5,57.1 L580.8,57.3 L581.1,58.4 L581.4,58.2 L581.7,56.4 L582.0,57.6 L582.3,57.6 L582.6,58.5 L582.9,55.7 L583.2,54.6 L583.5,58.5 L583.8,56.1 L584.1,58.4 L584.4,58.4 L584.7,58.2 L585.0,58.5 L585.3,58.5 L585.6,58.7 L585.9,57.9 L586.2,56.0 L586.5,61.4 L586.8,59.7 L587.1,59.2 L587.4,59.0 L587.7,58.0 L588.0,59.0 L588.3,60.1 L588.6,59.9 L588.9,58.0 L589.2,56.6 L589.5,58.5 L589.8,59.9 L590.1,61.7 L590.4,60.3 L590.7,58.4 L591.0,59.2 L591.3,58.5 L591.6,59.4 L591.9,58.7 L592.2,58.0 L592.5,60.2 L592.8,60.1 L593.1,61.2 L593.4,60.4 L593.7,62.2 L594.0,60.3 L594.3,59.9 L594.6,61.2 L594.9,57.5 L595.2,61.2 L595.5,59.8 L595.8,59.8 L596.1,60.8 L596.4,62.5 L596.7,60.1 L597.0,61.9 L597.3,61.4 L597.6,59.7 L597.9,62.1 L598.2,60.4 L598.5,59.9 L598.8,60.6 L599.1,60.8 L599.4,62.2 L599.7,61.0 L600.0,63.3 L600.3,62.1 L600.6,61.2 L600.9,60.4 L601.2,62.4 L601.5,60.2 L601.8,59.1 L602.1,61.5 L602.4,63.2 L602.7,61.9 L603.0,62.8 L603.3,62.6 L603.6,60.8 L603.9,62.7 L604.2,61.4 L604.5,61.7 L604.8,63.3 L605.1,63.3 L605.4,63.9 L605.7,64.0 L606.0,64.2 L606.3,64.2 L606.6,63.4 L606.9,62.7 L607.2,64.5 L607.5,65.6 L607.8,65.3 L608.1,64.2 L608.4,65.1 L608.7,64.2 L609.0,65.1 L609.3,64.2 L609.6,65.0 L609.9,66.9 L610.2,65.8 L610.5,66.6 L610.8,64.5 L611.1,64.7 L611.4,65.4 L611.7,66.0 L612.0,65.4 L612.3,68.7 L612.6,65.2 L612.9,67.1 L613.2,66.8 L613.5,64.9 L613.8,66.6 L614.1,66.8 L614.4,67.1 L614.7,65.8 L615.0,66.6 L615.3,66.9 L615.6,64.0 L615.9,64.9 L616.2,66.8 L616.5,66.6 L616.8,65.8 L617.1,67.1 L617.4,65.8 L617.7,67.3 L618.0,66.4 L618.3,67.0 L618.6,66.8 L618.9,65.4 L619.2,66.1 L619.5,66.5 L619.8,65.6 L620.1,69.5 L620.4,65.8 L620.7,67.0 L621.0,66.8 L621.3,67.4 L621.6,67.6 L621.9,68.6 L622.2,68.3 L622.5,68.5 L622.8,67.8 L623.1,69.3 L623.4,69.4 L623.7,68.5 L624.0,68.8 L624.3,66.9 L624.6,69.1 L624.9,69.0 L625.2,69.9 L625.5,66.6 L625.8,69.0 L626.1,68.9 L626.4,69.2 L626.7,68.6 L627.0,69.4 L627.3,69.9 L627.6,69.4 L627.9,69.2 L628.2,69.4 L628.5,67.1 L628.8,67.9 L629.1,69.2 L629.4,68.2 L629.7,71.0 L630.0,68.6 L630.3,70.0 L630.6,67.8 L630.9,71.7 L631.2,69.5 L631.5,70.4 L631.8,69.8 L632.1,69.5 L632.4,70.9 L632.7,71.8 L633.0,71.1 L633.3,71.0 L633.6,70.2 L633.9,71.0 L634.2,71.5 L634.5,70.8 L634.8,72.1 L635.1,71.4 L635.4,72.1 L635.7,72.4 L636.0,71.4 L636.3,72.0 L636.6,72.2 L636.9,72.3 L637.2,71.3 L637.5,71.7 L637.8,72.3 L638.1,71.0 L638.4,73.2 L638.7,72.8 L639.0,72.7 L639.3,72.2 L639.6,73.4 L639.9,72.7 L640.2,74.4 L640.5,73.4 L640.8,72.1 L641.1,73.8 L641.4,73.0 L641.7,71.4 L642.0,73.4 L642.3,73.6 L642.6,73.9 L642.9,74.5 L643.2,74.2 L643.5,73.5 L643.8,73.6 L644.1,73.7 L644.4,74.5 L644.7,74.9 L645.0,75.6 L645.3,73.7 L645.6,74.7 L645.9,74.6 L646.2,74.6 L646.5,75.0 L646.8,74.9 L647.1,73.1 L647.4,74.8 L647.7,75.5 L648.0,76.0 L648.3,75.0 L648.6,75.2 L648.9,76.5 L649.2,75.6 L649.5,75.3 L649.8,76.5 L650.1,75.5 L650.4,76.1 L650.7,75.4 L651.0,76.1 L651.3,76.5 L651.6,77.3 L651.9,76.2 L652.2,76.8 L652.5,75.6 L652.8,76.2 L653.1,76.5 L653.4,76.7 L653.7,77.3 L654.0,77.5 L654.3,76.4 L654.6,78.7 L654.9,76.9 L655.2,78.4 L655.5,77.7 L655.8,77.7 L656.1,77.7 L656.4,77.8 L656.7,77.9 L657.0,77.7 L657.3,78.5 L657.6,78.3 L657.9,78.8 L658.2,78.4 L658.5,78.8 L658.8,78.3 L659.1,80.1 L659.4,78.5 L659.7,78.7 L660.0,79.4 L660.3,79.6 L660.6,78.0 L660.9,78.6 L661.2,78.9 L661.5,79.1 L661.8,79.3 L662.1,79.6 L662.4,80.4 L662.7,80.3 L663.0,79.8 L663.3,80.3 L663.6,80.5 L663.9,80.8 L664.2,80.4 L664.5,80.3 L664.8,80.9 L665.1,81.3 L665.4,80.7 L665.7,81.6 L666.0,81.6 L666.3,80.4 L666.6,80.9 L666.9,81.3 L667.2,81.5 L667.5,81.8 L667.8,81.3 L668.1,82.5 L668.4,82.6 L668.7,81.9 L669.0,81.8 L669.3,82.3 L669.6,82.5 L669.9,82.9 L670.2,82.8 L670.5,82.7 L670.8,82.4 L671.1,83.1 L671.4,83.2 L671.7,83.1 L672.0,83.3 L672.3,83.4 L672.6,83.5 L672.9,83.5 L673.2,83.7 L673.5,83.6 L673.8,84.0 L674.1,83.9 L674.4,84.1 L674.7,84.4 L675.0,84.3 L675.3,84.4 L675.6,84.5 L675.9,84.5 L676.2,84.5 L676.5,84.8 L676.8,84.9 L677.1,84.9 L677.4,85.0 L677.7,85.0 L678.0,85.3 L678.3,85.4 L678.6,85.5 L678.9,85.9 L679.2,85.5 L679.5,85.9 L679.8,86.0 L680.1,86.0 L680.4,86.1 L680.7,86.3 L681.0,86.4 L681.3,86.2 L681.6,86.5 L681.9,86.6 L682.2,86.7 L682.5,87.0 L682.8,86.9 L683.1,87.2 L683.4,87.1 L683.7,87.2 L684.0,87.5 L684.3,87.4 L684.6,87.6 L684.9,87.6 L685.2,87.7 L685.5,88.0 L685.8,88.1 L686.1,88.0 L686.4,88.1 L686.7,88.6 L687.0,88.4 L687.3,88.5 L687.6,88.9 L687.9,88.7 L688.2,88.9 L688.5,89.1 L688.8,89.2 L689.1,89.1 L689.4,89.6 L689.7,89.5 L690.0,89.6 L690.3,89.7 L690.6,89.8 L690.9,90.0 L691.2,90.1 L691.5,90.1 L691.8,90.3 L692.1,90.4 L692.4,90.5 L692.7,90.7 L693.0,90.9 L693.3,91.0 L693.6,91.2 L693.9,91.4 L694.2,91.4 L694.5,91.5 L694.8,91.6 L695.1,91.8 L695.4,92.0 L695.7,92.2 L696.0,92.1 L696.3,92.4 L696.6,92.6 L696.9,92.8 L697.2,92.7 L697.5,92.9 L697.8,92.9 L698.1,93.1 L698.4,93.2 L698.7,93.3 L699.0,93.6 L699.3,93.5 L699.6,93.8 L699.9,94.0 L700.2,94.2 L700.5,94.4 L700.8,94.4 L701.1,94.6 L701.4,94.5 L701.7,94.5 L702.0,94.8 L702.3,94.9 L702.6,95.2 L702.9,95.3 L703.2,95.6 L703.5,95.8 L703.8,95.8 L704.1,95.8 L704.4,96.0 L704.7,96.1 L705.0,96.3 L705.3,96.3 L705.6,96.6 L705.9,96.7 L706.2,96.9 L706.5,97.0 L706.8,97.2 L707.1,97.2 L707.4,97.2 L707.7,97.3 L708.0,97.6 L708.3,97.6 L708.6,97.7 L708.9,98.0 L709.2,98.1 L709.5,98.3 L709.8,98.6 L710.1,98.5 L710.4,98.7 L710.7,98.7 L711.0,98.9 L711.3,99.2 L711.6,99.1 L711.9,99.1 L712.2,99.6 L712.5,99.5 L712.8,99.6 L713.1,100.0 L713.4,99.9 L713.7,100.0 L714.0,100.2 L714.3,100.2 L714.6,100.5 L714.9,100.5 L715.2,100.5 L715.5,100.9 L715.8,100.8 L716.1,101.1 L716.4,101.0 L716.7,101.4 L717.0,101.2 L717.3,101.4 L717.6,101.7 L717.9,101.6 L718.2,101.8 L718.5,101.7 L718.8,102.1 L719.1,102.2 L719.4,102.2 L719.7,102.7 L720.0,102.6 L720.3,102.8 L720.6,102.7 L720.9,103.0 L721.2,103.1 L721.5,103.3 L721.8,103.4 L722.1,103.5 L722.4,103.4 L722.7,103.8 L723.0,103.9 L723.3,104.1 L723.6,104.3 L723.9,104.6 L724.2,104.5 L724.5,104.7 L724.8,104.8 L725.1,105.0 L725.4,105.1 L725.7,105.2 L726.0,105.3 L726.3,105.5 L726.6,105.8 L726.9,105.8 L727.2,106.0 L727.5,105.9 L727.8,106.2 L728.1,106.4 L728.4,106.5 L728.7,106.5 L729.0,106.6 L729.3,106.7 L729.6,107.0 L729.9,107.4 L730.2,107.3 L730.5,107.3 L730.8,107.6 L731.1,107.7 L731.4,107.8 L731.7,107.9 L732.0,108.0 L732.3,108.2 L732.6,108.4 L732.9,108.5 L733.2,108.7 L733.5,108.6 L733.8,109.1 L734.1,109.0 L734.4,109.1 L734.7,109.4 L735.0,109.4 L735.3,109.5 L735.6,109.7 L735.9,109.8 L736.2,110.0 L736.5,110.1 L736.8,110.2 L737.1,110.3 L737.4,110.6 L737.7,110.6 L738.0,110.7 L738.3,110.8 L738.6,110.8 L738.9,110.8 L739.2,111.2 L739.5,111.4 L739.8,111.5 L740.1,111.7 L740.4,111.9 L740.7,112.0 L741.0,112.1 L741.3,112.2 L741.6,112.3 L741.9,112.4 L742.2,112.7 L742.5,112.7 L742.8,112.9 L743.1,113.2 L743.4,113.0 L743.7,113.4 L744.0,113.5 L744.3,113.7 L744.6,113.8 L744.9,113.8 L745.2,114.1 L745.5,114.2 L745.8,114.4 L746.1,114.5 L746.4,114.5 L746.7,114.9 L747.0,115.0 L747.3,115.2 L747.6,115.3 L747.9,115.3 L748.2,115.6 L748.5,115.6 L748.8,116.0 L749.1,116.1 L749.4,116.0 L749.7,116.2 L750.0,116.5 L750.3,116.5 L750.6,116.5 L750.9,117.0 L751.2,117.0 L751.5,116.9 L751.8,117.3 L752.1,117.4 L752.4,117.5 L752.7,117.8 L753.0,117.8 L753.3,118.1 L753.6,118.2 L753.9,118.4 L754.2,118.5 L754.5,118.4 L754.8,118.8 L755.1,118.9 L755.4,119.1 L755.7,119.2 L756.0,119.5 L756.3,119.5 L756.6,119.5 L756.9,119.8 L757.2,120.0 L757.5,120.1 L757.8,120.2 L758.1,120.5 L758.4,120.5 L758.7,120.8 L759.0,120.8 L759.3,120.9 L759.6,121.1 L759.9,121.2 L760.2,121.4 L760.5,121.4 L760.8,121.5 L761.1,121.8 L761.4,122.0 L761.7,122.1 L762.0,122.3 L762.3,122.6 L762.6,122.6 L762.9,122.7 L763.2,122.9 L763.5,123.2 L763.8,123.2 L764.1,123.3 L764.4,123.4 L764.7,123.5 L765.0,123.8 L765.3,123.9 L765.6,124.0 L765.9,124.1 L766.2,124.4 L766.5,124.3 L766.8,124.5 L767.1,124.8 L767.4,125.0 L767.7,125.1 L768.0,125.3 L768.3,125.5 L768.6,125.6 L768.9,125.7 L769.2,126.0 L769.5,126.1 L769.8,126.2 L770.1,126.4 L770.4,126.4 L770.7,126.4 L771.0,126.7 L771.3,126.8 L771.6,126.9 L771.9,127.2 L772.2,127.2 L772.5,127.5 L772.8,127.5 L773.1,127.7 L773.4,127.8 L773.7,128.0 L774.0,128.1 L774.3,128.3 L774.6,128.5 L774.9,128.5 L775.2,128.6 L775.5,128.8 L775.8,129.0 L776.1,129.1 L776.4,129.2 L776.7,129.4 L777.0,129.6 L777.3,129.4 L777.6,129.9 L777.9,129.9 L778.2,130.1 L778.5,130.1 L778.8,130.3 L779.1,130.5 L779.4,130.5 L779.7,130.8 L780.0,130.9 L780.3,131.1 L780.6,131.2 L780.9,131.2 L781.2,131.4 L781.5,131.6 L781.8,131.7 L782.1,131.9 L782.4,132.0 L782.7,132.0 L783.0,132.2 L783.3,132.3 L783.6,132.4 L783.9,132.7 L784.2,132.7 L784.5,132.8 L784.8,132.9 L785.1,133.2 L785.4,133.3 L785.7,133.4 L786.0,133.5 L786.3,133.7 L786.6,134.0 L786.9,134.0 L787.2,134.1 L787.5,134.3 L787.8,134.7 L788.1,134.6 L788.4,134.7 L788.7,134.9 L789.0,135.2 L789.3,135.1 L789.6,135.3 L789.9,135.4 L790.2,135.5 L790.5,135.7 L790.8,136.0 L791.1,136.1 L791.4,136.1 L791.7,136.3 L792.0,136.4 L792.3,136.5 L792.6,136.8 L792.9,137.0 L793.2,137.2 L793.5,137.2 L793.8,137.4 L794.1,137.6 L794.4,137.6 L794.7,137.8 L795.0,137.9 L795.3,138.1 L795.6,138.3 L795.9,138.3 L796.2,138.4 L796.5,138.7 L796.8,138.8 L797.1,138.8 L797.4,139.0 L797.7,139.2 L798.0,139.4 L798.3,139.6 L798.6,139.8 L798.9,139.9 L799.2,140.0 L799.5,140.1 L799.8,140.4 L800.1,140.5 L800.4,140.6 L800.7,140.7 L801.0,141.0 L801.2,141.1"/>
</g>
<g stroke-width="3" fill="none">
<path stroke="#ff0000" d="M219.9,34.5 H288.3"/>
<path stroke="#0000ff" d="M219.9,58.5 H288.3"/>
<path stroke="#00ff00" d="M219.9,82.5 H288.3"/>
</g>
<g fill="none" stroke="#000" stroke-width="2" stroke-linecap="butt">
<path d="M182.08,499.5 v-11 M182.08,11.9 v11 M259.46,499.5 v-11 M259.46,11.9 v11 M336.83,499.5 v-11 M336.83,11.9 v11 M414.21,499.5 v-11 M414.21,11.9 v11 M491.59,499.5 v-11 M491.59,11.9 v11 M568.97,499.5 v-11 M568.97,11.9 v11 M646.34,499.5 v-11 M646.34,11.9 v11 M723.72,499.5 v-11 M723.72,11.9 v11 M104.7,450.74 h11 M801.1,450.74 h-11 M104.7,401.98 h11 M801.1,401.98 h-11 M104.7,353.22 h11 M801.1,353.22 h-11 M104.7,304.46 h11 M801.1,304.46 h-11 M104.7,255.70 h11 M801.1,255.70 h-11 M104.7,206.94 h11 M801.1,206.94 h-11 M104.7,158.18 h11 M801.1,158.18 h-11 M104.7,109.42 h11 M801.1,109.42 h-11 M104.7,60.66 h11 M801.1,60.66 h-11 "/>
<rect x="104.7" y="11.9" width="696.40" height="487.60"/>
</g>
<g><path transform="translate(101.33,531.30) scale(0.011719,-0.011719)" d="M763 0H583V1147Q518 1085 412.5 1023T223 930V1104Q373 1174.5 485 1275T644 1470H763Z" fill="#000" stroke="#000" stroke-width="29.9"/><path transform="translate(162.02,531.30) scale(0.011719,-0.011719)" d="M763 0H583V1147Q518 1085 412.5 1023T223 930V1104Q373 1174.5 485 1275T644 1470H763Z" fill="#000" stroke="#000" stroke-width="29.9"/><text transform="translate(175.37,531.30) scale(1,1.035)">.02</text><path transform="translate(239.40,531.30) scale(0.011719,-0.011719)" d="M763 0H583V1147Q518 1085 412.5 1023T223 930V1104Q373 1174.5 485 1275T644 1470H763Z" fill="#000" stroke="#000" stroke-width="29.9"/><text transform="translate(252.75,531.30) scale(1,1.035)">.04</text><path transform="translate(316.78,531.30) scale(0.011719,-0.011719)" d="M763 0H583V1147Q518 1085 412.5 1023T223 930V1104Q373 1174.5 485 1275T644 1470H763Z" fill="#000" stroke="#000" stroke-width="29.9"/><text transform="translate(330.13,531.30) scale(1,1.035)">.06</text><path transform="translate(394.16,531.30) scale(0.011719,-0.011719)" d="M763 0H583V1147Q518 1085 412.5 1023T223 930V1104Q373 1174.5 485 1275T644 1470H763Z" fill="#000" stroke="#000" stroke-width="29.9"/><text transform="translate(407.50,531.30) scale(1,1.035)">.08</text><path transform="translate(478.21,531.30) scale(0.011719,-0.011719)" d="M763 0H583V1147Q518 1085 412.5 1023T223 930V1104Q373 1174.5 485 1275T644 1470H763Z" fill="#000" stroke="#000" stroke-width="29.9"/><text transform="translate(491.55,531.30) scale(1,1.035)">.</text><path transform="translate(498.22,531.30) scale(0.011719,-0.011719)" d="M763 0H583V1147Q518 1085 412.5 1023T223 930V1104Q373 1174.5 485 1275T644 1470H763Z" fill="#000" stroke="#000" stroke-width="29.9"/><path transform="translate(548.91,531.30) scale(0.011719,-0.011719)" d="M763 0H583V1147Q518 1085 412.5 1023T223 930V1104Q373 1174.5 485 1275T644 1470H763Z" fill="#000" stroke="#000" stroke-width="29.9"/><text transform="translate(562.26,531.30) scale(1,1.035)">.</text><path transform="translate(568.93,531.30) scale(0.011719,-0.011719)" d="M763 0H583V1147Q518 1085 412.5 1023T223 930V1104Q373 1174.5 485 1275T644 1470H763Z" fill="#000" stroke="#000" stroke-width="29.9"/><text transform="translate(582.27,531.30) scale(1,1.035)">2</text><path transform="translate(626.29,531.30) scale(0.011719,-0.011719)" d="M763 0H583V1147Q518 1085 412.5 1023T223 930V1104Q373 1174.5 485 1275T644 1470H763Z" fill="#000" stroke="#000" stroke-width="29.9"/><text transform="translate(639.64,531.30) scale(1,1.035)">.</text><path transform="translate(646.30,531.30) scale(0.011719,-0.011719)" d="M763 0H583V1147Q518 1085 412.5 1023T223 930V1104Q373 1174.5 485 1275T644 1470H763Z" fill="#000" stroke="#000" stroke-width="29.9"/><text transform="translate(659.65,531.30) scale(1,1.035)">4</text><path transform="translate(703.67,531.30) scale(0.011719,-0.011719)" d="M763 0H583V1147Q518 1085 412.5 1023T223 930V1104Q373 1174.5 485 1275T644 1470H763Z" fill="#000" stroke="#000" stroke-width="29.9"/><text transform="translate(717.01,531.30) scale(1,1.035)">.</text><path transform="translate(723.68,531.30) scale(0.011719,-0.011719)" d="M763 0H583V1147Q518 1085 412.5 1023T223 930V1104Q373 1174.5 485 1275T644 1470H763Z" fill="#000" stroke="#000" stroke-width="29.9"/><text transform="translate(737.03,531.30) scale(1,1.035)">6</text><path transform="translate(781.04,531.30) scale(0.011719,-0.011719)" d="M763 0H583V1147Q518 1085 412.5 1023T223 930V1104Q373 1174.5 485 1275T644 1470H763Z" fill="#000" stroke="#000" stroke-width="29.9"/><text transform="translate(794.39,531.30) scale(1,1.035)">.</text><path transform="translate(801.06,531.30) scale(0.011719,-0.011719)" d="M763 0H583V1147Q518 1085 412.5 1023T223 930V1104Q373 1174.5 485 1275T644 1470H763Z" fill="#000" stroke="#000" stroke-width="29.9"/><text transform="translate(814.41,531.30) scale(1,1.035)">8</text></g>
<g><text transform="translate(90.2,507.40) scale(1,1.035)" text-anchor="end">2.5</text><text transform="translate(90.2,458.64) scale(1,1.035)" text-anchor="end">3.0</text><text transform="translate(90.2,409.88) scale(1,1.035)" text-anchor="end">3.5</text><text transform="translate(90.2,361.12) scale(1,1.035)" text-anchor="end">4.0</text><text transform="translate(90.2,312.36) scale(1,1.035)" text-anchor="end">4.5</text><text transform="translate(90.2,263.60) scale(1,1.035)" text-anchor="end">5.0</text><text transform="translate(90.2,214.84) scale(1,1.035)" text-anchor="end">5.5</text><text transform="translate(90.2,166.08) scale(1,1.035)" text-anchor="end">6.0</text><text transform="translate(90.2,117.32) scale(1,1.035)" text-anchor="end">6.5</text><text transform="translate(90.2,68.56) scale(1,1.035)" text-anchor="end">7.0</text><text transform="translate(90.2,19.80) scale(1,1.035)" text-anchor="end">7.5</text></g>
<text x="453" y="564.8" text-anchor="middle">Time (t<tspan class="sub" dy="6">ff</tspan><tspan dy="-6">)</tspan></text>
<g transform="translate(28.9,255.5) rotate(-90)">
<text x="-87.38" y="0">E<tspan class="sub" dy="7.4">mag</tspan><tspan dy="-7.4"> (</tspan></text>
<path transform="translate(-19.38,0.00) scale(0.011719,-0.011719)" d="M763 0H583V1147Q518 1085 412.5 1023T223 930V1104Q373 1174.5 485 1275T644 1470H763Z" fill="#000" stroke="#000" stroke-width="29.9"/>
<text x="-6.04" y="0">0<tspan class="sub" dy="-12.4">9</tspan><tspan dy="12.4"> erg/g)</tspan></text>
</g>
<!-- legend -->
<g class="sym">
<text transform="translate(150.6,39.5) scale(1.04,1)">η</text>
<text transform="translate(127.4,63.5) scale(1.04,1)">η</text>
<text transform="translate(180.0,63.5) scale(1.04,1)">η</text>
<text transform="translate(168.8,87.5) scale(1.04,1)">η</text>
</g>
<text class="sub" x="166" y="47.4">v X r</text>
<text class="sub" x="142.3" y="71.4">a</text>
<text x="159.5" y="65.8">+</text>
<text class="sub" x="194.5" y="71.4">b</text>
<text class="sub" x="184.4" y="95.4">ab</text>
</svg>
</body></html>
